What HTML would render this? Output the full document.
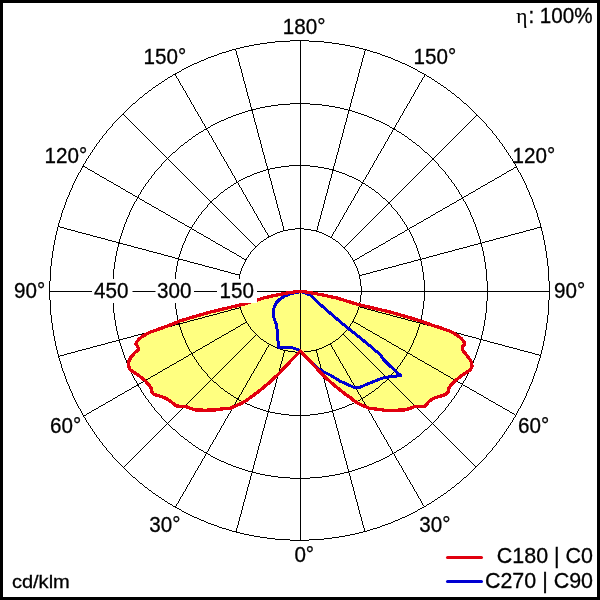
<!DOCTYPE html>
<html><head><meta charset="utf-8"><title>Polar</title>
<style>
html,body{margin:0;padding:0;background:#fff;}
body{width:600px;height:600px;overflow:hidden;position:relative;}
svg{position:absolute;left:0;top:0;display:block}
text{font-family:"Liberation Sans",sans-serif;font-size:21.33px;fill:#000;stroke:#000;stroke-width:0.3px;}
.frame{position:absolute;left:0;top:0;width:594px;height:594px;border:3px solid #000;pointer-events:none}
</style></head><body>
<svg width="600" height="600" viewBox="0 0 600 600">
<rect width="600" height="600" fill="#fff"/>
<path d="M300.5,291.4 L295,291.8 L290,292.6 L285,293.4 L280,294.4 L275,295.3 L270,296.6 L265,297.6 L258,299.7 L245,303.8 L235,306.2 L225,308.6 L220,309.8 L210,312.1 L200,315 L190,317.9 L180,320.9 L170,325 L160,328.7 L150,332.2 L143,336 L139,339.2 L136.5,342.3 L135.8,344.2 L137.8,346.5 L138.6,349.7 L135,352.5 L131,357 L129,361 L128.5,366 L130,369.5 L135,373 L140,376.5 L145,380.5 L149,385 L151.5,388.5 L151.5,391.5 L154,394.5 L159,395.8 L164,397.5 L168,399.5 L172,402.5 L176,405.8 L180,406.3 L186,406.7 L191,408.5 L196,410 L205,410.2 L215,410 L220,409.2 L225,408.7 L231,408 L236.5,405.5 L240,404 L245,401.3 L250,397.8 L255,394.2 L260,390.3 L265,386.2 L270,382 L275,377.3 L280,372.5 L285,367 L290,361.7 L295,356.5 L300.5,351 L305.5,356.5 L310.5,361.7 L315.5,367 L320.5,372.5 L325.5,377.3 L330.5,382 L335.5,386.2 L340.5,390.3 L345.5,394.2 L350.5,397.8 L355.5,401.8 L360.5,404.5 L364,406 L369.5,408.3 L375.5,409 L380.5,409.6 L385.5,410.4 L395.5,410.2 L404.5,410 L409.5,408.5 L414.5,406.7 L420.5,406.3 L424.8,406.2 L430,400.5 L435,397.7 L441.5,395.8 L446,394.5 L448.3,391.5 L448.5,388.5 L451,385 L455.5,380.5 L460.5,376.5 L465.5,373 L470.5,369.5 L472,366 L471,361.3 L468.2,357 L464.8,352.8 L462.4,349.9 L462.5,346.8 L464.8,344.4 L464,342 L461.5,338.7 L457.5,335.5 L450.5,331.4 L440.5,327.9 L430.5,324.6 L420.5,320.9 L410.5,317.9 L400.5,315 L390.5,312.1 L380.5,309.8 L375.5,308.6 L365.5,306.2 L355.5,303.8 L342.5,299.7 L335.5,297.6 L330.5,296.7 L325.5,295.5 L320.5,294.6 L315.5,293.6 L310.5,292.8 L305.5,291.9Z" fill="#ffff80" stroke="none" shape-rendering="crispEdges"/>
<g fill="#000" stroke="none" shape-rendering="crispEdges">
<path d="M237,286h1v9h-1zM238,279h1v7h-1zM238,295h1v7h-1zM239,274h1v5h-1zM239,302h1v5h-1zM240,271h1v3h-1zM240,307h1v3h-1zM241,268h1v3h-1zM241,310h1v3h-1zM242,266h1v2h-1zM242,313h1v2h-1zM243,264h1v2h-1zM243,315h1v2h-1zM244,262h1v2h-1zM244,317h1v2h-1zM245,260h1v2h-1zM245,319h1v2h-1zM246,258h1v2h-1zM246,321h1v2h-1zM247,257h1v1h-1zM247,323h1v1h-1zM248,255h1v2h-1zM248,324h1v2h-1zM249,254h1v1h-1zM249,326h1v1h-1zM250,252h1v2h-1zM250,327h1v2h-1zM251,251h1v1h-1zM251,329h1v1h-1zM252,250h1v1h-1zM252,330h1v1h-1zM253,249h1v1h-1zM253,331h1v1h-1zM254,248h1v1h-1zM254,332h1v1h-1zM255,247h1v1h-1zM255,333h1v1h-1zM256,246h1v1h-1zM256,334h1v1h-1zM257,245h1v1h-1zM257,335h1v1h-1zM258,244h1v1h-1zM258,336h1v1h-1zM259,243h1v1h-1zM259,337h1v1h-1zM260,242h1v1h-1zM260,338h1v1h-1zM261,241h2v1h-2zM261,339h2v1h-2zM263,240h1v1h-1zM263,340h1v1h-1zM264,239h2v1h-2zM264,341h2v1h-2zM266,238h1v1h-1zM266,342h1v1h-1zM267,237h2v1h-2zM267,343h2v1h-2zM269,236h2v1h-2zM269,344h2v1h-2zM271,235h2v1h-2zM271,345h2v1h-2zM273,234h2v1h-2zM273,346h2v1h-2zM275,233h2v1h-2zM275,347h2v1h-2zM277,232h3v1h-3zM277,348h3v1h-3zM280,231h3v1h-3zM280,349h3v1h-3zM283,230h5v1h-5zM283,350h5v1h-5zM288,229h7v1h-7zM288,351h7v1h-7zM295,228h9v1h-9zM295,352h9v1h-9zM304,229h7v1h-7zM304,351h7v1h-7zM311,230h5v1h-5zM311,350h5v1h-5zM316,231h3v1h-3zM316,349h3v1h-3zM319,232h3v1h-3zM319,348h3v1h-3zM322,233h2v1h-2zM322,347h2v1h-2zM324,234h2v1h-2zM324,346h2v1h-2zM326,235h2v1h-2zM326,345h2v1h-2zM328,236h2v1h-2zM328,344h2v1h-2zM330,237h2v1h-2zM330,343h2v1h-2zM332,238h1v1h-1zM332,342h1v1h-1zM333,239h2v1h-2zM333,341h2v1h-2zM335,240h1v1h-1zM335,340h1v1h-1zM336,241h2v1h-2zM336,339h2v1h-2zM338,242h1v1h-1zM338,338h1v1h-1zM339,243h1v1h-1zM339,337h1v1h-1zM340,244h1v1h-1zM340,336h1v1h-1zM341,245h1v1h-1zM341,335h1v1h-1zM342,246h1v1h-1zM342,334h1v1h-1zM343,247h1v1h-1zM343,333h1v1h-1zM344,248h1v1h-1zM344,332h1v1h-1zM345,249h1v1h-1zM345,331h1v1h-1zM346,250h1v1h-1zM346,330h1v1h-1zM347,251h1v1h-1zM347,329h1v1h-1zM348,252h1v2h-1zM348,327h1v2h-1zM349,254h1v1h-1zM349,326h1v1h-1zM350,255h1v2h-1zM350,324h1v2h-1zM351,257h1v1h-1zM351,323h1v1h-1zM352,258h1v2h-1zM352,321h1v2h-1zM353,260h1v2h-1zM353,319h1v2h-1zM354,262h1v2h-1zM354,317h1v2h-1zM355,264h1v2h-1zM355,315h1v2h-1zM356,266h1v2h-1zM356,313h1v2h-1zM357,268h1v3h-1zM357,310h1v3h-1zM358,271h1v3h-1zM358,307h1v3h-1zM359,274h1v5h-1zM359,302h1v5h-1zM360,279h1v7h-1zM360,295h1v7h-1zM361,286h1v9h-1z"/>
<path d="M174,280h1v21h-1zM175,272h1v8h-1zM175,301h1v8h-1zM176,266h1v6h-1zM176,309h1v6h-1zM177,261h1v5h-1zM177,315h1v5h-1zM178,257h1v4h-1zM178,320h1v4h-1zM179,254h1v3h-1zM179,324h1v3h-1zM180,251h1v3h-1zM180,327h1v3h-1zM181,248h1v3h-1zM181,330h1v3h-1zM182,245h1v3h-1zM182,333h1v3h-1zM183,243h1v2h-1zM183,336h1v2h-1zM184,241h1v2h-1zM184,338h1v2h-1zM185,238h1v3h-1zM185,340h1v3h-1zM186,236h1v2h-1zM186,343h1v2h-1zM187,234h1v2h-1zM187,345h1v2h-1zM188,232h1v2h-1zM188,347h1v2h-1zM189,230h1v2h-1zM189,349h1v2h-1zM190,229h1v1h-1zM190,351h1v1h-1zM191,227h1v2h-1zM191,352h1v2h-1zM192,225h1v2h-1zM192,354h1v2h-1zM193,224h1v1h-1zM193,356h1v1h-1zM194,222h1v2h-1zM194,357h1v2h-1zM195,221h1v1h-1zM195,359h1v1h-1zM196,219h1v2h-1zM196,360h1v2h-1zM197,218h1v1h-1zM197,362h1v1h-1zM198,216h1v2h-1zM198,363h1v2h-1zM199,215h1v1h-1zM199,365h1v1h-1zM200,214h1v1h-1zM200,366h1v1h-1zM201,212h1v2h-1zM201,367h1v2h-1zM202,211h1v1h-1zM202,369h1v1h-1zM203,210h1v1h-1zM203,370h1v1h-1zM204,209h1v1h-1zM204,371h1v1h-1zM205,208h1v1h-1zM205,372h1v1h-1zM206,207h1v1h-1zM206,373h1v1h-1zM207,205h1v2h-1zM207,374h1v2h-1zM208,204h1v1h-1zM208,376h1v1h-1zM209,203h1v1h-1zM209,377h1v1h-1zM210,202h1v1h-1zM210,378h1v1h-1zM211,201h1v1h-1zM211,379h1v1h-1zM212,200h1v1h-1zM212,380h1v1h-1zM213,199h1v1h-1zM213,381h1v1h-1zM214,198h2v1h-2zM214,382h2v1h-2zM216,197h1v1h-1zM216,383h1v1h-1zM217,196h1v1h-1zM217,384h1v1h-1zM218,195h1v1h-1zM218,385h1v1h-1zM219,194h1v1h-1zM219,386h1v1h-1zM220,193h1v1h-1zM220,387h1v1h-1zM221,192h2v1h-2zM221,388h2v1h-2zM223,191h1v1h-1zM223,389h1v1h-1zM224,190h1v1h-1zM224,390h1v1h-1zM225,189h2v1h-2zM225,391h2v1h-2zM227,188h1v1h-1zM227,392h1v1h-1zM228,187h2v1h-2zM228,393h2v1h-2zM230,186h1v1h-1zM230,394h1v1h-1zM231,185h2v1h-2zM231,395h2v1h-2zM233,184h1v1h-1zM233,396h1v1h-1zM234,183h2v1h-2zM234,397h2v1h-2zM236,182h2v1h-2zM236,398h2v1h-2zM238,181h1v1h-1zM238,399h1v1h-1zM239,180h2v1h-2zM239,400h2v1h-2zM241,179h2v1h-2zM241,401h2v1h-2zM243,178h2v1h-2zM243,402h2v1h-2zM245,177h2v1h-2zM245,403h2v1h-2zM247,176h3v1h-3zM247,404h3v1h-3zM250,175h2v1h-2zM250,405h2v1h-2zM252,174h2v1h-2zM252,406h2v1h-2zM254,173h3v1h-3zM254,407h3v1h-3zM257,172h3v1h-3zM257,408h3v1h-3zM260,171h3v1h-3zM260,409h3v1h-3zM263,170h3v1h-3zM263,410h3v1h-3zM266,169h4v1h-4zM266,411h4v1h-4zM270,168h5v1h-5zM270,412h5v1h-5zM275,167h6v1h-6zM275,413h6v1h-6zM281,166h8v1h-8zM281,414h8v1h-8zM289,165h21v1h-21zM289,415h21v1h-21zM310,166h8v1h-8zM310,414h8v1h-8zM318,167h6v1h-6zM318,413h6v1h-6zM324,168h5v1h-5zM324,412h5v1h-5zM329,169h4v1h-4zM329,411h4v1h-4zM333,170h3v1h-3zM333,410h3v1h-3zM336,171h3v1h-3zM336,409h3v1h-3zM339,172h3v1h-3zM339,408h3v1h-3zM342,173h3v1h-3zM342,407h3v1h-3zM345,174h2v1h-2zM345,406h2v1h-2zM347,175h2v1h-2zM347,405h2v1h-2zM349,176h3v1h-3zM349,404h3v1h-3zM352,177h2v1h-2zM352,403h2v1h-2zM354,178h2v1h-2zM354,402h2v1h-2zM356,179h2v1h-2zM356,401h2v1h-2zM358,180h2v1h-2zM358,400h2v1h-2zM360,181h1v1h-1zM360,399h1v1h-1zM361,182h2v1h-2zM361,398h2v1h-2zM363,183h2v1h-2zM363,397h2v1h-2zM365,184h1v1h-1zM365,396h1v1h-1zM366,185h2v1h-2zM366,395h2v1h-2zM368,186h1v1h-1zM368,394h1v1h-1zM369,187h2v1h-2zM369,393h2v1h-2zM371,188h1v1h-1zM371,392h1v1h-1zM372,189h2v1h-2zM372,391h2v1h-2zM374,190h1v1h-1zM374,390h1v1h-1zM375,191h1v1h-1zM375,389h1v1h-1zM376,192h2v1h-2zM376,388h2v1h-2zM378,193h1v1h-1zM378,387h1v1h-1zM379,194h1v1h-1zM379,386h1v1h-1zM380,195h1v1h-1zM380,385h1v1h-1zM381,196h1v1h-1zM381,384h1v1h-1zM382,197h1v1h-1zM382,383h1v1h-1zM383,198h2v1h-2zM383,382h2v1h-2zM385,199h1v1h-1zM385,381h1v1h-1zM386,200h1v1h-1zM386,380h1v1h-1zM387,201h1v1h-1zM387,379h1v1h-1zM388,202h1v1h-1zM388,378h1v1h-1zM389,203h1v1h-1zM389,377h1v1h-1zM390,204h1v1h-1zM390,376h1v1h-1zM391,205h1v2h-1zM391,374h1v2h-1zM392,207h1v1h-1zM392,373h1v1h-1zM393,208h1v1h-1zM393,372h1v1h-1zM394,209h1v1h-1zM394,371h1v1h-1zM395,210h1v1h-1zM395,370h1v1h-1zM396,211h1v1h-1zM396,369h1v1h-1zM397,212h1v2h-1zM397,367h1v2h-1zM398,214h1v1h-1zM398,366h1v1h-1zM399,215h1v1h-1zM399,365h1v1h-1zM400,216h1v2h-1zM400,363h1v2h-1zM401,218h1v1h-1zM401,362h1v1h-1zM402,219h1v2h-1zM402,360h1v2h-1zM403,221h1v1h-1zM403,359h1v1h-1zM404,222h1v2h-1zM404,357h1v2h-1zM405,224h1v1h-1zM405,356h1v1h-1zM406,225h1v2h-1zM406,354h1v2h-1zM407,227h1v2h-1zM407,352h1v2h-1zM408,229h1v1h-1zM408,351h1v1h-1zM409,230h1v2h-1zM409,349h1v2h-1zM410,232h1v2h-1zM410,347h1v2h-1zM411,234h1v2h-1zM411,345h1v2h-1zM412,236h1v2h-1zM412,343h1v2h-1zM413,238h1v3h-1zM413,340h1v3h-1zM414,241h1v2h-1zM414,338h1v2h-1zM415,243h1v2h-1zM415,336h1v2h-1zM416,245h1v3h-1zM416,333h1v3h-1zM417,248h1v3h-1zM417,330h1v3h-1zM418,251h1v3h-1zM418,327h1v3h-1zM419,254h1v3h-1zM419,324h1v3h-1zM420,257h1v4h-1zM420,320h1v4h-1zM421,261h1v5h-1zM421,315h1v5h-1zM422,266h1v6h-1zM422,309h1v6h-1zM423,272h1v8h-1zM423,301h1v8h-1zM424,280h1v21h-1z"/>
<path d="M112,281h1v20h-1zM113,269h1v12h-1zM113,301h1v12h-1zM114,262h1v7h-1zM114,313h1v7h-1zM115,256h1v6h-1zM115,320h1v6h-1zM116,251h1v5h-1zM116,326h1v5h-1zM117,247h1v4h-1zM117,331h1v4h-1zM118,243h1v4h-1zM118,335h1v4h-1zM119,239h1v4h-1zM119,339h1v4h-1zM120,236h1v3h-1zM120,343h1v3h-1zM121,233h1v3h-1zM121,346h1v3h-1zM122,230h1v3h-1zM122,349h1v3h-1zM123,227h1v3h-1zM123,352h1v3h-1zM124,224h1v3h-1zM124,355h1v3h-1zM125,222h1v2h-1zM125,358h1v2h-1zM126,219h1v3h-1zM126,360h1v3h-1zM127,217h1v2h-1zM127,363h1v2h-1zM128,215h1v2h-1zM128,365h1v2h-1zM129,212h1v3h-1zM129,367h1v3h-1zM130,210h1v2h-1zM130,370h1v2h-1zM131,208h1v2h-1zM131,372h1v2h-1zM132,206h1v2h-1zM132,374h1v2h-1zM133,204h1v2h-1zM133,376h1v2h-1zM134,202h1v2h-1zM134,378h1v2h-1zM135,201h1v1h-1zM135,380h1v1h-1zM136,199h1v2h-1zM136,381h1v2h-1zM137,197h1v2h-1zM137,383h1v2h-1zM138,195h1v2h-1zM138,385h1v2h-1zM139,194h1v1h-1zM139,387h1v1h-1zM140,192h1v2h-1zM140,388h1v2h-1zM141,190h1v2h-1zM141,390h1v2h-1zM142,189h1v1h-1zM142,392h1v1h-1zM143,187h1v2h-1zM143,393h1v2h-1zM144,186h1v1h-1zM144,395h1v1h-1zM145,184h1v2h-1zM145,396h1v2h-1zM146,183h1v1h-1zM146,398h1v1h-1zM147,182h1v1h-1zM147,399h1v1h-1zM148,180h1v2h-1zM148,400h1v2h-1zM149,179h1v1h-1zM149,402h1v1h-1zM150,178h1v1h-1zM150,403h1v1h-1zM151,176h1v2h-1zM151,404h1v2h-1zM152,175h1v1h-1zM152,406h1v1h-1zM153,174h1v1h-1zM153,407h1v1h-1zM154,172h1v2h-1zM154,408h1v2h-1zM155,171h1v1h-1zM155,410h1v1h-1zM156,170h1v1h-1zM156,411h1v1h-1zM157,169h1v1h-1zM157,412h1v1h-1zM158,168h1v1h-1zM158,413h1v1h-1zM159,167h1v1h-1zM159,414h1v1h-1zM160,166h1v1h-1zM160,415h1v1h-1zM161,164h1v2h-1zM161,416h1v2h-1zM162,163h1v1h-1zM162,418h1v1h-1zM163,162h1v1h-1zM163,419h1v1h-1zM164,161h1v1h-1zM164,420h1v1h-1zM165,160h1v1h-1zM165,421h1v1h-1zM166,159h1v1h-1zM166,422h1v1h-1zM167,158h1v1h-1zM167,423h1v1h-1zM168,157h1v1h-1zM168,424h1v1h-1zM169,156h1v1h-1zM169,425h1v1h-1zM170,155h1v1h-1zM170,426h1v1h-1zM171,154h1v1h-1zM171,427h1v1h-1zM172,153h1v1h-1zM172,428h1v1h-1zM173,152h2v1h-2zM173,429h2v1h-2zM175,151h1v1h-1zM175,430h1v1h-1zM176,150h1v1h-1zM176,431h1v1h-1zM177,149h1v1h-1zM177,432h1v1h-1zM178,148h1v1h-1zM178,433h1v1h-1zM179,147h1v1h-1zM179,434h1v1h-1zM180,146h1v1h-1zM180,435h1v1h-1zM181,145h2v1h-2zM181,436h2v1h-2zM183,144h1v1h-1zM183,437h1v1h-1zM184,143h1v1h-1zM184,438h1v1h-1zM185,142h2v1h-2zM185,439h2v1h-2zM187,141h1v1h-1zM187,440h1v1h-1zM188,140h1v1h-1zM188,441h1v1h-1zM189,139h2v1h-2zM189,442h2v1h-2zM191,138h1v1h-1zM191,443h1v1h-1zM192,137h1v1h-1zM192,444h1v1h-1zM193,136h2v1h-2zM193,445h2v1h-2zM195,135h1v1h-1zM195,446h1v1h-1zM196,134h2v1h-2zM196,447h2v1h-2zM198,133h1v1h-1zM198,448h1v1h-1zM199,132h2v1h-2zM199,449h2v1h-2zM201,131h2v1h-2zM201,450h2v1h-2zM203,130h1v1h-1zM203,451h1v1h-1zM204,129h2v1h-2zM204,452h2v1h-2zM206,128h2v1h-2zM206,453h2v1h-2zM208,127h2v1h-2zM208,454h2v1h-2zM210,126h1v1h-1zM210,455h1v1h-1zM211,125h2v1h-2zM211,456h2v1h-2zM213,124h2v1h-2zM213,457h2v1h-2zM215,123h2v1h-2zM215,458h2v1h-2zM217,122h2v1h-2zM217,459h2v1h-2zM219,121h2v1h-2zM219,460h2v1h-2zM221,120h3v1h-3zM221,461h3v1h-3zM224,119h2v1h-2zM224,462h2v1h-2zM226,118h2v1h-2zM226,463h2v1h-2zM228,117h3v1h-3zM228,464h3v1h-3zM231,116h2v1h-2zM231,465h2v1h-2zM233,115h3v1h-3zM233,466h3v1h-3zM236,114h3v1h-3zM236,467h3v1h-3zM239,113h3v1h-3zM239,468h3v1h-3zM242,112h3v1h-3zM242,469h3v1h-3zM245,111h3v1h-3zM245,470h3v1h-3zM248,110h4v1h-4zM248,471h4v1h-4zM252,109h4v1h-4zM252,472h4v1h-4zM256,108h4v1h-4zM256,473h4v1h-4zM260,107h5v1h-5zM260,474h5v1h-5zM265,106h6v1h-6zM265,475h6v1h-6zM271,105h7v1h-7zM271,476h7v1h-7zM278,104h12v1h-12zM278,477h12v1h-12zM290,103h20v1h-20zM290,478h20v1h-20zM310,104h12v1h-12zM310,477h12v1h-12zM322,105h7v1h-7zM322,476h7v1h-7zM329,106h6v1h-6zM329,475h6v1h-6zM335,107h5v1h-5zM335,474h5v1h-5zM340,108h4v1h-4zM340,473h4v1h-4zM344,109h4v1h-4zM344,472h4v1h-4zM348,110h4v1h-4zM348,471h4v1h-4zM352,111h3v1h-3zM352,470h3v1h-3zM355,112h3v1h-3zM355,469h3v1h-3zM358,113h3v1h-3zM358,468h3v1h-3zM361,114h3v1h-3zM361,467h3v1h-3zM364,115h3v1h-3zM364,466h3v1h-3zM367,116h2v1h-2zM367,465h2v1h-2zM369,117h3v1h-3zM369,464h3v1h-3zM372,118h2v1h-2zM372,463h2v1h-2zM374,119h2v1h-2zM374,462h2v1h-2zM376,120h3v1h-3zM376,461h3v1h-3zM379,121h2v1h-2zM379,460h2v1h-2zM381,122h2v1h-2zM381,459h2v1h-2zM383,123h2v1h-2zM383,458h2v1h-2zM385,124h2v1h-2zM385,457h2v1h-2zM387,125h2v1h-2zM387,456h2v1h-2zM389,126h1v1h-1zM389,455h1v1h-1zM390,127h2v1h-2zM390,454h2v1h-2zM392,128h2v1h-2zM392,453h2v1h-2zM394,129h2v1h-2zM394,452h2v1h-2zM396,130h1v1h-1zM396,451h1v1h-1zM397,131h2v1h-2zM397,450h2v1h-2zM399,132h2v1h-2zM399,449h2v1h-2zM401,133h1v1h-1zM401,448h1v1h-1zM402,134h2v1h-2zM402,447h2v1h-2zM404,135h1v1h-1zM404,446h1v1h-1zM405,136h2v1h-2zM405,445h2v1h-2zM407,137h1v1h-1zM407,444h1v1h-1zM408,138h1v1h-1zM408,443h1v1h-1zM409,139h2v1h-2zM409,442h2v1h-2zM411,140h1v1h-1zM411,441h1v1h-1zM412,141h1v1h-1zM412,440h1v1h-1zM413,142h2v1h-2zM413,439h2v1h-2zM415,143h1v1h-1zM415,438h1v1h-1zM416,144h1v1h-1zM416,437h1v1h-1zM417,145h2v1h-2zM417,436h2v1h-2zM419,146h1v1h-1zM419,435h1v1h-1zM420,147h1v1h-1zM420,434h1v1h-1zM421,148h1v1h-1zM421,433h1v1h-1zM422,149h1v1h-1zM422,432h1v1h-1zM423,150h1v1h-1zM423,431h1v1h-1zM424,151h1v1h-1zM424,430h1v1h-1zM425,152h2v1h-2zM425,429h2v1h-2zM427,153h1v1h-1zM427,428h1v1h-1zM428,154h1v1h-1zM428,427h1v1h-1zM429,155h1v1h-1zM429,426h1v1h-1zM430,156h1v1h-1zM430,425h1v1h-1zM431,157h1v1h-1zM431,424h1v1h-1zM432,158h1v1h-1zM432,423h1v1h-1zM433,159h1v1h-1zM433,422h1v1h-1zM434,160h1v1h-1zM434,421h1v1h-1zM435,161h1v1h-1zM435,420h1v1h-1zM436,162h1v1h-1zM436,419h1v1h-1zM437,163h1v1h-1zM437,418h1v1h-1zM438,164h1v2h-1zM438,416h1v2h-1zM439,166h1v1h-1zM439,415h1v1h-1zM440,167h1v1h-1zM440,414h1v1h-1zM441,168h1v1h-1zM441,413h1v1h-1zM442,169h1v1h-1zM442,412h1v1h-1zM443,170h1v1h-1zM443,411h1v1h-1zM444,171h1v1h-1zM444,410h1v1h-1zM445,172h1v2h-1zM445,408h1v2h-1zM446,174h1v1h-1zM446,407h1v1h-1zM447,175h1v1h-1zM447,406h1v1h-1zM448,176h1v2h-1zM448,404h1v2h-1zM449,178h1v1h-1zM449,403h1v1h-1zM450,179h1v1h-1zM450,402h1v1h-1zM451,180h1v2h-1zM451,400h1v2h-1zM452,182h1v1h-1zM452,399h1v1h-1zM453,183h1v1h-1zM453,398h1v1h-1zM454,184h1v2h-1zM454,396h1v2h-1zM455,186h1v1h-1zM455,395h1v1h-1zM456,187h1v2h-1zM456,393h1v2h-1zM457,189h1v1h-1zM457,392h1v1h-1zM458,190h1v2h-1zM458,390h1v2h-1zM459,192h1v2h-1zM459,388h1v2h-1zM460,194h1v1h-1zM460,387h1v1h-1zM461,195h1v2h-1zM461,385h1v2h-1zM462,197h1v2h-1zM462,383h1v2h-1zM463,199h1v2h-1zM463,381h1v2h-1zM464,201h1v1h-1zM464,380h1v1h-1zM465,202h1v2h-1zM465,378h1v2h-1zM466,204h1v2h-1zM466,376h1v2h-1zM467,206h1v2h-1zM467,374h1v2h-1zM468,208h1v2h-1zM468,372h1v2h-1zM469,210h1v2h-1zM469,370h1v2h-1zM470,212h1v3h-1zM470,367h1v3h-1zM471,215h1v2h-1zM471,365h1v2h-1zM472,217h1v2h-1zM472,363h1v2h-1zM473,219h1v3h-1zM473,360h1v3h-1zM474,222h1v2h-1zM474,358h1v2h-1zM475,224h1v3h-1zM475,355h1v3h-1zM476,227h1v3h-1zM476,352h1v3h-1zM477,230h1v3h-1zM477,349h1v3h-1zM478,233h1v3h-1zM478,346h1v3h-1zM479,236h1v3h-1zM479,343h1v3h-1zM480,239h1v4h-1zM480,339h1v4h-1zM481,243h1v4h-1zM481,335h1v4h-1zM482,247h1v4h-1zM482,331h1v4h-1zM483,251h1v5h-1zM483,326h1v5h-1zM484,256h1v6h-1zM484,320h1v6h-1zM485,262h1v7h-1zM485,313h1v7h-1zM486,269h1v12h-1zM486,301h1v12h-1zM487,281h1v20h-1z"/>
<path d="M49,281h1v19h-1zM50,266h1v15h-1zM50,300h1v15h-1zM51,258h1v8h-1zM51,315h1v8h-1zM52,251h1v7h-1zM52,323h1v7h-1zM53,245h1v6h-1zM53,330h1v6h-1zM54,240h1v5h-1zM54,336h1v5h-1zM55,235h1v5h-1zM55,341h1v5h-1zM56,231h1v4h-1zM56,346h1v4h-1zM57,227h1v4h-1zM57,350h1v4h-1zM58,223h1v4h-1zM58,354h1v4h-1zM59,220h1v3h-1zM59,358h1v3h-1zM60,217h1v3h-1zM60,361h1v3h-1zM61,213h1v4h-1zM61,364h1v4h-1zM62,210h1v3h-1zM62,368h1v3h-1zM63,208h1v2h-1zM63,371h1v2h-1zM64,205h1v3h-1zM64,373h1v3h-1zM65,202h1v3h-1zM65,376h1v3h-1zM66,199h1v3h-1zM66,379h1v3h-1zM67,197h1v2h-1zM67,382h1v2h-1zM68,195h1v2h-1zM68,384h1v2h-1zM69,192h1v3h-1zM69,386h1v3h-1zM70,190h1v2h-1zM70,389h1v2h-1zM71,188h1v2h-1zM71,391h1v2h-1zM72,185h1v3h-1zM72,393h1v3h-1zM73,183h1v2h-1zM73,396h1v2h-1zM74,181h1v2h-1zM74,398h1v2h-1zM75,179h1v2h-1zM75,400h1v2h-1zM76,177h1v2h-1zM76,402h1v2h-1zM77,175h1v2h-1zM77,404h1v2h-1zM78,173h1v2h-1zM78,406h1v2h-1zM79,172h1v1h-1zM79,408h1v1h-1zM80,170h1v2h-1zM80,409h1v2h-1zM81,168h1v2h-1zM81,411h1v2h-1zM82,166h1v2h-1zM82,413h1v2h-1zM83,164h1v2h-1zM83,415h1v2h-1zM84,163h1v1h-1zM84,417h1v1h-1zM85,161h1v2h-1zM85,418h1v2h-1zM86,159h1v2h-1zM86,420h1v2h-1zM87,158h1v1h-1zM87,422h1v1h-1zM88,156h1v2h-1zM88,423h1v2h-1zM89,155h1v1h-1zM89,425h1v1h-1zM90,153h1v2h-1zM90,426h1v2h-1zM91,152h1v1h-1zM91,428h1v1h-1zM92,150h1v2h-1zM92,429h1v2h-1zM93,149h1v1h-1zM93,431h1v1h-1zM94,147h1v2h-1zM94,432h1v2h-1zM95,146h1v1h-1zM95,434h1v1h-1zM96,144h1v2h-1zM96,435h1v2h-1zM97,143h1v1h-1zM97,437h1v1h-1zM98,142h1v1h-1zM98,438h1v1h-1zM99,140h1v2h-1zM99,439h1v2h-1zM100,139h1v1h-1zM100,441h1v1h-1zM101,138h1v1h-1zM101,442h1v1h-1zM102,136h1v2h-1zM102,443h1v2h-1zM103,135h1v1h-1zM103,445h1v1h-1zM104,134h1v1h-1zM104,446h1v1h-1zM105,133h1v1h-1zM105,447h1v1h-1zM106,131h1v2h-1zM106,448h1v2h-1zM107,130h1v1h-1zM107,450h1v1h-1zM108,129h1v1h-1zM108,451h1v1h-1zM109,128h1v1h-1zM109,452h1v1h-1zM110,127h1v1h-1zM110,453h1v1h-1zM111,126h1v1h-1zM111,454h1v1h-1zM112,124h1v2h-1zM112,455h1v2h-1zM113,123h1v1h-1zM113,457h1v1h-1zM114,122h1v1h-1zM114,458h1v1h-1zM115,121h1v1h-1zM115,459h1v1h-1zM116,120h1v1h-1zM116,460h1v1h-1zM117,119h1v1h-1zM117,461h1v1h-1zM118,118h1v1h-1zM118,462h1v1h-1zM119,117h1v1h-1zM119,463h1v1h-1zM120,116h1v1h-1zM120,464h1v1h-1zM121,115h1v1h-1zM121,465h1v1h-1zM122,114h1v1h-1zM122,466h1v1h-1zM123,113h1v1h-1zM123,467h1v1h-1zM124,112h1v1h-1zM124,468h1v1h-1zM125,111h1v1h-1zM125,469h1v1h-1zM126,110h1v1h-1zM126,470h1v1h-1zM127,109h1v1h-1zM127,471h1v1h-1zM128,108h1v1h-1zM128,472h1v1h-1zM129,107h1v1h-1zM129,473h1v1h-1zM130,106h1v1h-1zM130,474h1v1h-1zM131,105h1v1h-1zM131,475h1v1h-1zM132,104h1v1h-1zM132,476h1v1h-1zM133,103h2v1h-2zM133,477h2v1h-2zM135,102h1v1h-1zM135,478h1v1h-1zM136,101h1v1h-1zM136,479h1v1h-1zM137,100h1v1h-1zM137,480h1v1h-1zM138,99h1v1h-1zM138,481h1v1h-1zM139,98h1v1h-1zM139,482h1v1h-1zM140,97h2v1h-2zM140,483h2v1h-2zM142,96h1v1h-1zM142,484h1v1h-1zM143,95h1v1h-1zM143,485h1v1h-1zM144,94h1v1h-1zM144,486h1v1h-1zM145,93h2v1h-2zM145,487h2v1h-2zM147,92h1v1h-1zM147,488h1v1h-1zM148,91h1v1h-1zM148,489h1v1h-1zM149,90h2v1h-2zM149,490h2v1h-2zM151,89h1v1h-1zM151,491h1v1h-1zM152,88h1v1h-1zM152,492h1v1h-1zM153,87h2v1h-2zM153,493h2v1h-2zM155,86h1v1h-1zM155,494h1v1h-1zM156,85h2v1h-2zM156,495h2v1h-2zM158,84h1v1h-1zM158,496h1v1h-1zM159,83h2v1h-2zM159,497h2v1h-2zM161,82h1v1h-1zM161,498h1v1h-1zM162,81h2v1h-2zM162,499h2v1h-2zM164,80h1v1h-1zM164,500h1v1h-1zM165,79h2v1h-2zM165,501h2v1h-2zM167,78h1v1h-1zM167,502h1v1h-1zM168,77h2v1h-2zM168,503h2v1h-2zM170,76h2v1h-2zM170,504h2v1h-2zM172,75h1v1h-1zM172,505h1v1h-1zM173,74h2v1h-2zM173,506h2v1h-2zM175,73h2v1h-2zM175,507h2v1h-2zM177,72h2v1h-2zM177,508h2v1h-2zM179,71h2v1h-2zM179,509h2v1h-2zM181,70h1v1h-1zM181,510h1v1h-1zM182,69h2v1h-2zM182,511h2v1h-2zM184,68h2v1h-2zM184,512h2v1h-2zM186,67h2v1h-2zM186,513h2v1h-2zM188,66h2v1h-2zM188,514h2v1h-2zM190,65h2v1h-2zM190,515h2v1h-2zM192,64h2v1h-2zM192,516h2v1h-2zM194,63h3v1h-3zM194,517h3v1h-3zM197,62h2v1h-2zM197,518h2v1h-2zM199,61h2v1h-2zM199,519h2v1h-2zM201,60h3v1h-3zM201,520h3v1h-3zM204,59h2v1h-2zM204,521h2v1h-2zM206,58h2v1h-2zM206,522h2v1h-2zM208,57h3v1h-3zM208,523h3v1h-3zM211,56h3v1h-3zM211,524h3v1h-3zM214,55h3v1h-3zM214,525h3v1h-3zM217,54h2v1h-2zM217,526h2v1h-2zM219,53h3v1h-3zM219,527h3v1h-3zM222,52h4v1h-4zM222,528h4v1h-4zM226,51h3v1h-3zM226,529h3v1h-3zM229,50h3v1h-3zM229,530h3v1h-3zM232,49h4v1h-4zM232,531h4v1h-4zM236,48h4v1h-4zM236,532h4v1h-4zM240,47h4v1h-4zM240,533h4v1h-4zM244,46h5v1h-5zM244,534h5v1h-5zM249,45h5v1h-5zM249,535h5v1h-5zM254,44h6v1h-6zM254,536h6v1h-6zM260,43h7v1h-7zM260,537h7v1h-7zM267,42h8v1h-8zM267,538h8v1h-8zM275,41h15v1h-15zM275,539h15v1h-15zM290,40h19v1h-19zM290,540h19v1h-19zM309,41h15v1h-15zM309,539h15v1h-15zM324,42h8v1h-8zM324,538h8v1h-8zM332,43h7v1h-7zM332,537h7v1h-7zM339,44h6v1h-6zM339,536h6v1h-6zM345,45h5v1h-5zM345,535h5v1h-5zM350,46h5v1h-5zM350,534h5v1h-5zM355,47h4v1h-4zM355,533h4v1h-4zM359,48h4v1h-4zM359,532h4v1h-4zM363,49h4v1h-4zM363,531h4v1h-4zM367,50h3v1h-3zM367,530h3v1h-3zM370,51h3v1h-3zM370,529h3v1h-3zM373,52h4v1h-4zM373,528h4v1h-4zM377,53h3v1h-3zM377,527h3v1h-3zM380,54h2v1h-2zM380,526h2v1h-2zM382,55h3v1h-3zM382,525h3v1h-3zM385,56h3v1h-3zM385,524h3v1h-3zM388,57h3v1h-3zM388,523h3v1h-3zM391,58h2v1h-2zM391,522h2v1h-2zM393,59h2v1h-2zM393,521h2v1h-2zM395,60h3v1h-3zM395,520h3v1h-3zM398,61h2v1h-2zM398,519h2v1h-2zM400,62h2v1h-2zM400,518h2v1h-2zM402,63h3v1h-3zM402,517h3v1h-3zM405,64h2v1h-2zM405,516h2v1h-2zM407,65h2v1h-2zM407,515h2v1h-2zM409,66h2v1h-2zM409,514h2v1h-2zM411,67h2v1h-2zM411,513h2v1h-2zM413,68h2v1h-2zM413,512h2v1h-2zM415,69h2v1h-2zM415,511h2v1h-2zM417,70h1v1h-1zM417,510h1v1h-1zM418,71h2v1h-2zM418,509h2v1h-2zM420,72h2v1h-2zM420,508h2v1h-2zM422,73h2v1h-2zM422,507h2v1h-2zM424,74h2v1h-2zM424,506h2v1h-2zM426,75h1v1h-1zM426,505h1v1h-1zM427,76h2v1h-2zM427,504h2v1h-2zM429,77h2v1h-2zM429,503h2v1h-2zM431,78h1v1h-1zM431,502h1v1h-1zM432,79h2v1h-2zM432,501h2v1h-2zM434,80h1v1h-1zM434,500h1v1h-1zM435,81h2v1h-2zM435,499h2v1h-2zM437,82h1v1h-1zM437,498h1v1h-1zM438,83h2v1h-2zM438,497h2v1h-2zM440,84h1v1h-1zM440,496h1v1h-1zM441,85h2v1h-2zM441,495h2v1h-2zM443,86h1v1h-1zM443,494h1v1h-1zM444,87h2v1h-2zM444,493h2v1h-2zM446,88h1v1h-1zM446,492h1v1h-1zM447,89h1v1h-1zM447,491h1v1h-1zM448,90h2v1h-2zM448,490h2v1h-2zM450,91h1v1h-1zM450,489h1v1h-1zM451,92h1v1h-1zM451,488h1v1h-1zM452,93h2v1h-2zM452,487h2v1h-2zM454,94h1v1h-1zM454,486h1v1h-1zM455,95h1v1h-1zM455,485h1v1h-1zM456,96h1v1h-1zM456,484h1v1h-1zM457,97h2v1h-2zM457,483h2v1h-2zM459,98h1v1h-1zM459,482h1v1h-1zM460,99h1v1h-1zM460,481h1v1h-1zM461,100h1v1h-1zM461,480h1v1h-1zM462,101h1v1h-1zM462,479h1v1h-1zM463,102h1v1h-1zM463,478h1v1h-1zM464,103h2v1h-2zM464,477h2v1h-2zM466,104h1v1h-1zM466,476h1v1h-1zM467,105h1v1h-1zM467,475h1v1h-1zM468,106h1v1h-1zM468,474h1v1h-1zM469,107h1v1h-1zM469,473h1v1h-1zM470,108h1v1h-1zM470,472h1v1h-1zM471,109h1v1h-1zM471,471h1v1h-1zM472,110h1v1h-1zM472,470h1v1h-1zM473,111h1v1h-1zM473,469h1v1h-1zM474,112h1v1h-1zM474,468h1v1h-1zM475,113h1v1h-1zM475,467h1v1h-1zM476,114h1v1h-1zM476,466h1v1h-1zM477,115h1v1h-1zM477,465h1v1h-1zM478,116h1v1h-1zM478,464h1v1h-1zM479,117h1v1h-1zM479,463h1v1h-1zM480,118h1v1h-1zM480,462h1v1h-1zM481,119h1v1h-1zM481,461h1v1h-1zM482,120h1v1h-1zM482,460h1v1h-1zM483,121h1v1h-1zM483,459h1v1h-1zM484,122h1v1h-1zM484,458h1v1h-1zM485,123h1v1h-1zM485,457h1v1h-1zM486,124h1v2h-1zM486,455h1v2h-1zM487,126h1v1h-1zM487,454h1v1h-1zM488,127h1v1h-1zM488,453h1v1h-1zM489,128h1v1h-1zM489,452h1v1h-1zM490,129h1v1h-1zM490,451h1v1h-1zM491,130h1v1h-1zM491,450h1v1h-1zM492,131h1v2h-1zM492,448h1v2h-1zM493,133h1v1h-1zM493,447h1v1h-1zM494,134h1v1h-1zM494,446h1v1h-1zM495,135h1v1h-1zM495,445h1v1h-1zM496,136h1v2h-1zM496,443h1v2h-1zM497,138h1v1h-1zM497,442h1v1h-1zM498,139h1v1h-1zM498,441h1v1h-1zM499,140h1v2h-1zM499,439h1v2h-1zM500,142h1v1h-1zM500,438h1v1h-1zM501,143h1v1h-1zM501,437h1v1h-1zM502,144h1v2h-1zM502,435h1v2h-1zM503,146h1v1h-1zM503,434h1v1h-1zM504,147h1v2h-1zM504,432h1v2h-1zM505,149h1v1h-1zM505,431h1v1h-1zM506,150h1v2h-1zM506,429h1v2h-1zM507,152h1v1h-1zM507,428h1v1h-1zM508,153h1v2h-1zM508,426h1v2h-1zM509,155h1v1h-1zM509,425h1v1h-1zM510,156h1v2h-1zM510,423h1v2h-1zM511,158h1v1h-1zM511,422h1v1h-1zM512,159h1v2h-1zM512,420h1v2h-1zM513,161h1v2h-1zM513,418h1v2h-1zM514,163h1v1h-1zM514,417h1v1h-1zM515,164h1v2h-1zM515,415h1v2h-1zM516,166h1v2h-1zM516,413h1v2h-1zM517,168h1v2h-1zM517,411h1v2h-1zM518,170h1v2h-1zM518,409h1v2h-1zM519,172h1v1h-1zM519,408h1v1h-1zM520,173h1v2h-1zM520,406h1v2h-1zM521,175h1v2h-1zM521,404h1v2h-1zM522,177h1v2h-1zM522,402h1v2h-1zM523,179h1v2h-1zM523,400h1v2h-1zM524,181h1v2h-1zM524,398h1v2h-1zM525,183h1v2h-1zM525,396h1v2h-1zM526,185h1v3h-1zM526,393h1v3h-1zM527,188h1v2h-1zM527,391h1v2h-1zM528,190h1v2h-1zM528,389h1v2h-1zM529,192h1v3h-1zM529,386h1v3h-1zM530,195h1v2h-1zM530,384h1v2h-1zM531,197h1v2h-1zM531,382h1v2h-1zM532,199h1v3h-1zM532,379h1v3h-1zM533,202h1v3h-1zM533,376h1v3h-1zM534,205h1v3h-1zM534,373h1v3h-1zM535,208h1v2h-1zM535,371h1v2h-1zM536,210h1v3h-1zM536,368h1v3h-1zM537,213h1v4h-1zM537,364h1v4h-1zM538,217h1v3h-1zM538,361h1v3h-1zM539,220h1v3h-1zM539,358h1v3h-1zM540,223h1v4h-1zM540,354h1v4h-1zM541,227h1v4h-1zM541,350h1v4h-1zM542,231h1v4h-1zM542,346h1v4h-1zM543,235h1v5h-1zM543,341h1v5h-1zM544,240h1v5h-1zM544,336h1v5h-1zM545,245h1v6h-1zM545,330h1v6h-1zM546,251h1v7h-1zM546,323h1v7h-1zM547,258h1v8h-1zM547,315h1v8h-1zM548,266h1v15h-1zM548,300h1v15h-1zM549,281h1v19h-1z"/>
<path d="M49,291h501v1h-501zM58,226h2v1h-2zM58,356h2v1h-2zM60,227h4v1h-4zM60,355h4v1h-4zM64,228h3v1h-3zM64,354h3v1h-3zM67,229h4v1h-4zM67,353h4v1h-4zM71,230h4v1h-4zM71,352h4v1h-4zM75,231h3v1h-3zM75,351h3v1h-3zM78,232h4v1h-4zM78,350h4v1h-4zM82,233h4v1h-4zM82,349h4v1h-4zM83,416h1v1h-1zM83,166h2v1h-2zM84,415h2v1h-2zM85,167h2v1h-2zM86,414h1v1h-1zM86,234h4v1h-4zM86,348h4v1h-4zM87,168h1v1h-1zM87,413h2v1h-2zM88,169h2v1h-2zM89,412h2v1h-2zM90,170h2v1h-2zM90,235h3v1h-3zM90,347h3v1h-3zM91,411h1v1h-1zM92,171h2v1h-2zM92,410h2v1h-2zM93,236h4v1h-4zM93,346h4v1h-4zM94,172h1v1h-1zM94,409h2v1h-2zM95,173h2v1h-2zM96,408h2v1h-2zM97,174h2v1h-2zM97,237h4v1h-4zM97,345h4v1h-4zM98,407h1v1h-1zM99,175h1v1h-1zM99,406h2v1h-2zM100,176h2v1h-2zM101,405h2v1h-2zM101,238h4v1h-4zM101,344h4v1h-4zM102,177h2v1h-2zM103,404h2v1h-2zM104,178h2v1h-2zM105,403h1v1h-1zM105,239h3v1h-3zM105,343h3v1h-3zM106,179h1v1h-1zM106,402h2v1h-2zM107,180h2v1h-2zM108,401h2v1h-2zM108,240h4v1h-4zM108,342h4v1h-4zM109,181h2v1h-2zM110,400h2v1h-2zM111,182h2v1h-2zM112,399h1v1h-1zM112,241h4v1h-4zM112,341h4v1h-4zM113,183h1v1h-1zM113,398h2v1h-2zM114,184h2v1h-2zM115,397h2v1h-2zM116,185h2v1h-2zM116,242h3v1h-3zM116,340h3v1h-3zM117,396h1v1h-1zM118,186h2v1h-2zM118,395h2v1h-2zM119,243h4v1h-4zM119,339h4v1h-4zM120,187h1v1h-1zM120,394h2v1h-2zM121,188h2v1h-2zM122,393h2v1h-2zM123,114h1v1h-1zM123,467h1v1h-1zM123,189h2v1h-2zM123,244h4v1h-4zM123,338h4v1h-4zM124,115h1v1h-1zM124,392h1v1h-1zM124,466h1v1h-1zM125,116h1v1h-1zM125,190h1v1h-1zM125,465h1v1h-1zM125,391h2v1h-2zM126,117h1v1h-1zM126,464h1v1h-1zM126,191h2v1h-2zM127,118h1v1h-1zM127,463h1v1h-1zM127,390h2v1h-2zM127,245h4v1h-4zM127,337h4v1h-4zM128,119h1v1h-1zM128,462h1v1h-1zM128,192h2v1h-2zM129,120h1v1h-1zM129,461h1v1h-1zM129,389h2v1h-2zM130,121h1v1h-1zM130,460h1v1h-1zM130,193h2v1h-2zM131,122h1v1h-1zM131,388h1v1h-1zM131,459h1v1h-1zM131,246h3v1h-3zM131,336h3v1h-3zM132,123h1v1h-1zM132,194h1v1h-1zM132,458h1v1h-1zM132,387h2v1h-2zM133,124h1v1h-1zM133,457h1v1h-1zM133,195h2v1h-2zM134,125h1v1h-1zM134,456h1v1h-1zM134,386h2v1h-2zM134,247h4v1h-4zM134,335h4v1h-4zM135,126h1v1h-1zM135,455h1v1h-1zM135,196h2v1h-2zM136,127h1v1h-1zM136,454h1v1h-1zM136,385h2v1h-2zM137,128h1v1h-1zM137,453h1v1h-1zM137,197h2v1h-2zM138,129h1v1h-1zM138,384h1v1h-1zM138,452h1v1h-1zM138,248h4v1h-4zM138,334h4v1h-4zM139,130h1v1h-1zM139,198h1v1h-1zM139,451h1v1h-1zM139,383h2v1h-2zM140,131h1v1h-1zM140,450h1v1h-1zM140,199h2v1h-2zM141,132h1v1h-1zM141,449h1v1h-1zM141,382h2v1h-2zM142,133h1v1h-1zM142,448h1v1h-1zM142,200h2v1h-2zM142,249h4v1h-4zM142,333h4v1h-4zM143,134h1v1h-1zM143,381h1v1h-1zM143,447h1v1h-1zM144,135h1v1h-1zM144,201h1v1h-1zM144,446h1v1h-1zM144,380h2v1h-2zM145,136h1v1h-1zM145,445h1v1h-1zM145,202h2v1h-2zM146,137h1v1h-1zM146,444h1v1h-1zM146,379h2v1h-2zM146,250h3v1h-3zM146,332h3v1h-3zM147,138h1v1h-1zM147,443h1v1h-1zM147,203h2v1h-2zM148,139h1v1h-1zM148,442h1v1h-1zM148,378h2v1h-2zM149,140h1v1h-1zM149,441h1v1h-1zM149,204h2v1h-2zM149,251h4v1h-4zM149,331h4v1h-4zM150,141h1v1h-1zM150,377h1v1h-1zM150,440h1v1h-1zM151,142h1v1h-1zM151,205h1v1h-1zM151,439h1v1h-1zM151,376h2v1h-2zM152,143h1v1h-1zM152,438h1v1h-1zM152,206h2v1h-2zM153,144h1v1h-1zM153,437h1v1h-1zM153,375h2v1h-2zM153,252h4v1h-4zM153,330h4v1h-4zM154,145h1v1h-1zM154,436h1v1h-1zM154,207h2v1h-2zM155,146h1v1h-1zM155,435h1v1h-1zM155,374h2v1h-2zM156,147h1v1h-1zM156,434h1v1h-1zM156,208h2v1h-2zM157,148h1v1h-1zM157,373h1v1h-1zM157,433h1v1h-1zM157,253h4v1h-4zM157,329h4v1h-4zM158,149h1v1h-1zM158,209h1v1h-1zM158,432h1v1h-1zM158,372h2v1h-2zM159,150h1v1h-1zM159,431h1v1h-1zM159,210h2v1h-2zM160,151h1v1h-1zM160,430h1v1h-1zM160,371h2v1h-2zM161,152h1v1h-1zM161,429h1v1h-1zM161,211h2v1h-2zM161,254h3v1h-3zM161,328h3v1h-3zM162,153h1v1h-1zM162,370h1v1h-1zM162,428h1v1h-1zM163,154h1v1h-1zM163,427h1v1h-1zM163,212h2v1h-2zM163,369h2v1h-2zM164,155h1v1h-1zM164,426h1v1h-1zM164,255h4v1h-4zM164,327h4v1h-4zM165,156h1v1h-1zM165,213h1v1h-1zM165,425h1v1h-1zM165,368h2v1h-2zM166,157h1v1h-1zM166,424h1v1h-1zM166,214h2v1h-2zM167,158h1v1h-1zM167,423h1v1h-1zM167,367h2v1h-2zM168,159h1v1h-1zM168,422h1v1h-1zM168,215h2v1h-2zM168,256h4v1h-4zM168,326h4v1h-4zM169,160h1v1h-1zM169,366h1v1h-1zM169,421h1v1h-1zM170,161h1v1h-1zM170,216h1v1h-1zM170,420h1v1h-1zM170,365h2v1h-2zM171,162h1v1h-1zM171,419h1v1h-1zM171,217h2v1h-2zM172,163h1v1h-1zM172,418h1v1h-1zM172,364h2v1h-2zM172,257h3v1h-3zM172,325h3v1h-3zM173,164h1v1h-1zM173,417h1v1h-1zM173,218h2v1h-2zM174,165h1v1h-1zM174,416h1v1h-1zM174,363h2v1h-2zM175,74h1v2h-1zM175,166h1v1h-1zM175,415h1v1h-1zM175,506h1v2h-1zM175,219h2v1h-2zM175,258h4v1h-4zM175,324h4v1h-4zM176,76h1v2h-1zM176,167h1v1h-1zM176,362h1v1h-1zM176,414h1v1h-1zM176,504h1v2h-1zM177,78h1v1h-1zM177,168h1v1h-1zM177,220h1v1h-1zM177,413h1v1h-1zM177,503h1v1h-1zM177,361h2v1h-2zM178,79h1v2h-1zM178,169h1v1h-1zM178,412h1v1h-1zM178,501h1v2h-1zM178,221h2v1h-2zM179,81h1v2h-1zM179,170h1v1h-1zM179,411h1v1h-1zM179,499h1v2h-1zM179,360h2v1h-2zM179,259h4v1h-4zM179,323h4v1h-4zM180,83h1v2h-1zM180,171h1v1h-1zM180,410h1v1h-1zM180,497h1v2h-1zM180,222h2v1h-2zM181,85h1v1h-1zM181,172h1v1h-1zM181,409h1v1h-1zM181,496h1v1h-1zM181,359h2v1h-2zM182,86h1v2h-1zM182,173h1v1h-1zM182,408h1v1h-1zM182,494h1v2h-1zM182,223h2v1h-2zM183,88h1v2h-1zM183,174h1v1h-1zM183,358h1v1h-1zM183,407h1v1h-1zM183,492h1v2h-1zM183,260h4v1h-4zM183,322h4v1h-4zM184,90h1v1h-1zM184,175h1v1h-1zM184,224h1v1h-1zM184,406h1v1h-1zM184,491h1v1h-1zM184,357h2v1h-2zM185,91h1v2h-1zM185,176h1v1h-1zM185,405h1v1h-1zM185,489h1v2h-1zM185,225h2v1h-2zM186,93h1v2h-1zM186,177h1v1h-1zM186,404h1v1h-1zM186,487h1v2h-1zM186,356h2v1h-2zM187,95h1v2h-1zM187,178h1v1h-1zM187,403h1v1h-1zM187,485h1v2h-1zM187,226h2v1h-2zM187,261h3v1h-3zM187,321h3v1h-3zM188,97h1v1h-1zM188,179h1v1h-1zM188,355h1v1h-1zM188,402h1v1h-1zM188,484h1v1h-1zM189,98h1v2h-1zM189,180h1v1h-1zM189,401h1v1h-1zM189,482h1v2h-1zM189,227h2v1h-2zM189,354h2v1h-2zM190,100h1v2h-1zM190,181h1v1h-1zM190,400h1v1h-1zM190,480h1v2h-1zM190,262h4v1h-4zM190,320h4v1h-4zM191,102h1v2h-1zM191,182h1v1h-1zM191,228h1v1h-1zM191,399h1v1h-1zM191,478h1v2h-1zM191,353h2v1h-2zM192,104h1v1h-1zM192,183h1v1h-1zM192,398h1v1h-1zM192,477h1v1h-1zM192,229h2v1h-2zM193,105h1v2h-1zM193,184h1v1h-1zM193,397h1v1h-1zM193,475h1v2h-1zM193,352h2v1h-2zM194,107h1v2h-1zM194,185h1v1h-1zM194,396h1v1h-1zM194,473h1v2h-1zM194,230h2v1h-2zM194,263h4v1h-4zM194,319h4v1h-4zM195,109h1v2h-1zM195,186h1v1h-1zM195,351h1v1h-1zM195,395h1v1h-1zM195,471h1v2h-1zM196,111h1v1h-1zM196,187h1v1h-1zM196,231h1v1h-1zM196,394h1v1h-1zM196,470h1v1h-1zM196,350h2v1h-2zM197,112h1v2h-1zM197,188h1v1h-1zM197,393h1v1h-1zM197,468h1v2h-1zM197,232h2v1h-2zM198,114h1v2h-1zM198,189h1v1h-1zM198,392h1v1h-1zM198,466h1v2h-1zM198,349h2v1h-2zM198,264h4v1h-4zM198,318h4v1h-4zM199,116h1v1h-1zM199,190h1v1h-1zM199,391h1v1h-1zM199,465h1v1h-1zM199,233h2v1h-2zM200,117h1v2h-1zM200,191h1v1h-1zM200,390h1v1h-1zM200,463h1v2h-1zM200,348h2v1h-2zM201,119h1v2h-1zM201,192h1v1h-1zM201,389h1v1h-1zM201,461h1v2h-1zM201,234h2v1h-2zM202,121h1v2h-1zM202,193h1v1h-1zM202,347h1v1h-1zM202,388h1v1h-1zM202,459h1v2h-1zM202,265h3v1h-3zM202,317h3v1h-3zM203,123h1v1h-1zM203,194h1v1h-1zM203,235h1v1h-1zM203,387h1v1h-1zM203,458h1v1h-1zM203,346h2v1h-2zM204,124h1v2h-1zM204,195h1v1h-1zM204,386h1v1h-1zM204,456h1v2h-1zM204,236h2v1h-2zM205,126h1v2h-1zM205,196h1v1h-1zM205,385h1v1h-1zM205,454h1v2h-1zM205,345h2v1h-2zM205,266h4v1h-4zM205,316h4v1h-4zM206,128h1v2h-1zM206,197h1v1h-1zM206,384h1v1h-1zM206,452h1v2h-1zM206,237h2v1h-2zM207,130h1v1h-1zM207,198h1v1h-1zM207,383h1v1h-1zM207,451h1v1h-1zM207,344h2v1h-2zM208,131h1v2h-1zM208,199h1v1h-1zM208,382h1v1h-1zM208,449h1v2h-1zM208,238h2v1h-2zM209,133h1v2h-1zM209,200h1v1h-1zM209,343h1v1h-1zM209,381h1v1h-1zM209,447h1v2h-1zM209,267h4v1h-4zM209,315h4v1h-4zM210,135h1v1h-1zM210,201h1v1h-1zM210,239h1v1h-1zM210,380h1v1h-1zM210,445h1v2h-1zM210,342h2v1h-2zM211,136h1v2h-1zM211,202h1v1h-1zM211,379h1v1h-1zM211,444h1v1h-1zM211,240h2v1h-2zM212,138h1v2h-1zM212,203h1v1h-1zM212,378h1v1h-1zM212,442h1v2h-1zM212,341h2v1h-2zM213,140h1v2h-1zM213,204h1v1h-1zM213,377h1v1h-1zM213,440h1v2h-1zM213,241h2v1h-2zM213,268h4v1h-4zM213,314h4v1h-4zM214,142h1v1h-1zM214,205h1v1h-1zM214,340h1v1h-1zM214,376h1v1h-1zM214,439h1v1h-1zM215,143h1v2h-1zM215,206h1v1h-1zM215,242h1v1h-1zM215,375h1v1h-1zM215,437h1v2h-1zM215,339h2v1h-2zM216,145h1v2h-1zM216,207h1v1h-1zM216,374h1v1h-1zM216,435h1v2h-1zM216,243h2v1h-2zM217,147h1v2h-1zM217,208h1v1h-1zM217,373h1v1h-1zM217,433h1v2h-1zM217,338h2v1h-2zM217,269h3v1h-3zM217,313h3v1h-3zM218,149h1v1h-1zM218,209h1v1h-1zM218,372h1v1h-1zM218,432h1v1h-1zM218,244h2v1h-2zM219,150h1v2h-1zM219,210h1v1h-1zM219,371h1v1h-1zM219,430h1v2h-1zM219,337h2v1h-2zM220,152h1v2h-1zM220,211h1v1h-1zM220,370h1v1h-1zM220,428h1v2h-1zM220,245h2v1h-2zM220,270h4v1h-4zM220,312h4v1h-4zM221,154h1v2h-1zM221,212h1v1h-1zM221,336h1v1h-1zM221,369h1v1h-1zM221,426h1v2h-1zM222,156h1v1h-1zM222,213h1v1h-1zM222,246h1v1h-1zM222,368h1v1h-1zM222,425h1v1h-1zM222,335h2v1h-2zM223,157h1v2h-1zM223,214h1v1h-1zM223,367h1v1h-1zM223,423h1v2h-1zM223,247h2v1h-2zM224,159h1v2h-1zM224,215h1v1h-1zM224,366h1v1h-1zM224,421h1v2h-1zM224,334h2v1h-2zM224,271h4v1h-4zM224,311h4v1h-4zM225,161h1v1h-1zM225,216h1v1h-1zM225,365h1v1h-1zM225,419h1v2h-1zM225,248h2v1h-2zM226,162h1v2h-1zM226,217h1v1h-1zM226,364h1v1h-1zM226,418h1v1h-1zM226,333h2v1h-2zM227,164h1v2h-1zM227,218h1v1h-1zM227,363h1v1h-1zM227,416h1v2h-1zM227,249h2v1h-2zM228,166h1v2h-1zM228,219h1v1h-1zM228,332h1v1h-1zM228,362h1v1h-1zM228,414h1v2h-1zM228,272h3v1h-3zM228,310h3v1h-3zM229,168h1v1h-1zM229,220h1v1h-1zM229,250h1v1h-1zM229,361h1v1h-1zM229,413h1v1h-1zM229,331h2v1h-2zM230,169h1v2h-1zM230,221h1v1h-1zM230,360h1v1h-1zM230,411h1v2h-1zM230,251h2v1h-2zM231,171h1v2h-1zM231,222h1v1h-1zM231,359h1v1h-1zM231,409h1v2h-1zM231,330h2v1h-2zM231,273h4v1h-4zM231,309h4v1h-4zM232,173h1v2h-1zM232,223h1v1h-1zM232,358h1v1h-1zM232,407h1v2h-1zM232,252h2v1h-2zM233,175h1v1h-1zM233,224h1v1h-1zM233,357h1v1h-1zM233,406h1v1h-1zM233,329h2v1h-2zM234,176h1v2h-1zM234,225h1v1h-1zM234,356h1v1h-1zM234,404h1v2h-1zM234,253h2v1h-2zM235,49h1v2h-1zM235,178h1v2h-1zM235,226h1v1h-1zM235,328h1v1h-1zM235,355h1v1h-1zM235,402h1v2h-1zM235,274h4v1h-4zM235,308h4v1h-4zM236,51h1v4h-1zM236,180h1v2h-1zM236,227h1v1h-1zM236,254h1v1h-1zM236,354h1v1h-1zM236,400h1v2h-1zM236,528h1v4h-1zM236,327h2v1h-2zM237,55h1v3h-1zM237,182h1v1h-1zM237,228h1v1h-1zM237,353h1v1h-1zM237,399h1v1h-1zM237,525h1v3h-1zM237,255h2v1h-2zM238,58h1v4h-1zM238,183h1v2h-1zM238,229h1v1h-1zM238,352h1v1h-1zM238,397h1v2h-1zM238,521h1v4h-1zM238,326h2v1h-2zM239,62h1v4h-1zM239,185h1v2h-1zM239,230h1v1h-1zM239,275h1v1h-1zM239,351h1v1h-1zM239,395h1v2h-1zM239,517h1v4h-1zM239,256h2v1h-2zM239,307h2v1h-2zM240,66h1v3h-1zM240,187h1v1h-1zM240,231h1v1h-1zM240,325h1v1h-1zM240,350h1v1h-1zM240,394h1v1h-1zM240,514h1v3h-1zM241,69h1v4h-1zM241,188h1v2h-1zM241,232h1v1h-1zM241,257h1v1h-1zM241,349h1v1h-1zM241,392h1v2h-1zM241,510h1v4h-1zM241,324h2v1h-2zM242,73h1v4h-1zM242,190h1v2h-1zM242,233h1v1h-1zM242,348h1v1h-1zM242,390h1v2h-1zM242,506h1v4h-1zM242,258h2v1h-2zM243,77h1v4h-1zM243,192h1v2h-1zM243,234h1v1h-1zM243,347h1v1h-1zM243,388h1v2h-1zM243,502h1v4h-1zM243,323h2v1h-2zM244,81h1v3h-1zM244,194h1v1h-1zM244,235h1v1h-1zM244,346h1v1h-1zM244,387h1v1h-1zM244,499h1v3h-1zM244,259h2v1h-2zM245,84h1v4h-1zM245,195h1v2h-1zM245,236h1v1h-1zM245,345h1v1h-1zM245,385h1v2h-1zM245,495h1v4h-1zM245,322h2v1h-2zM246,88h1v4h-1zM246,197h1v2h-1zM246,237h1v1h-1zM246,344h1v1h-1zM246,383h1v2h-1zM246,491h1v4h-1zM247,92h1v4h-1zM247,199h1v2h-1zM247,238h1v1h-1zM247,343h1v1h-1zM247,381h1v2h-1zM247,487h1v4h-1zM248,96h1v3h-1zM248,201h1v1h-1zM248,239h1v1h-1zM248,342h1v1h-1zM248,380h1v1h-1zM248,484h1v3h-1zM249,99h1v4h-1zM249,202h1v2h-1zM249,240h1v1h-1zM249,341h1v1h-1zM249,378h1v2h-1zM249,480h1v4h-1zM250,103h1v4h-1zM250,204h1v2h-1zM250,241h1v1h-1zM250,340h1v1h-1zM250,376h1v2h-1zM250,476h1v4h-1zM251,107h1v3h-1zM251,206h1v1h-1zM251,242h1v1h-1zM251,339h1v1h-1zM251,374h1v2h-1zM251,473h1v3h-1zM252,110h1v4h-1zM252,207h1v2h-1zM252,243h1v1h-1zM252,338h1v1h-1zM252,373h1v1h-1zM252,469h1v4h-1zM253,114h1v4h-1zM253,209h1v2h-1zM253,244h1v1h-1zM253,337h1v1h-1zM253,371h1v2h-1zM253,465h1v4h-1zM254,118h1v4h-1zM254,211h1v2h-1zM254,245h1v1h-1zM254,336h1v1h-1zM254,369h1v2h-1zM254,461h1v4h-1zM255,122h1v3h-1zM255,213h1v1h-1zM255,246h1v1h-1zM255,335h1v1h-1zM255,368h1v1h-1zM255,458h1v3h-1zM256,125h1v4h-1zM256,214h1v2h-1zM256,334h1v1h-1zM256,366h1v2h-1zM256,454h1v4h-1zM257,129h1v4h-1zM257,216h1v2h-1zM257,364h1v2h-1zM257,450h1v4h-1zM258,133h1v4h-1zM258,218h1v2h-1zM258,362h1v2h-1zM258,446h1v4h-1zM259,137h1v3h-1zM259,220h1v1h-1zM259,361h1v1h-1zM259,443h1v3h-1zM260,140h1v4h-1zM260,221h1v2h-1zM260,359h1v2h-1zM260,439h1v4h-1zM261,144h1v4h-1zM261,223h1v2h-1zM261,357h1v2h-1zM261,435h1v4h-1zM262,148h1v4h-1zM262,225h1v2h-1zM262,355h1v2h-1zM262,431h1v4h-1zM263,152h1v3h-1zM263,227h1v1h-1zM263,354h1v1h-1zM263,428h1v3h-1zM264,155h1v4h-1zM264,228h1v2h-1zM264,352h1v2h-1zM264,424h1v4h-1zM265,159h1v4h-1zM265,230h1v2h-1zM265,350h1v2h-1zM265,420h1v4h-1zM266,163h1v3h-1zM266,232h1v1h-1zM266,348h1v2h-1zM266,417h1v3h-1zM267,166h1v4h-1zM267,233h1v2h-1zM267,347h1v1h-1zM267,413h1v4h-1zM268,170h1v4h-1zM268,235h1v2h-1zM268,345h1v2h-1zM268,409h1v4h-1zM269,174h1v4h-1zM269,344h1v1h-1zM269,405h1v4h-1zM270,178h1v3h-1zM270,402h1v3h-1zM271,181h1v4h-1zM271,398h1v4h-1zM272,185h1v4h-1zM272,394h1v4h-1zM273,189h1v4h-1zM273,390h1v4h-1zM274,193h1v3h-1zM274,387h1v3h-1zM275,196h1v4h-1zM275,383h1v4h-1zM276,200h1v4h-1zM276,379h1v4h-1zM277,204h1v4h-1zM277,375h1v4h-1zM278,208h1v3h-1zM278,372h1v3h-1zM279,211h1v4h-1zM279,368h1v4h-1zM280,215h1v4h-1zM280,364h1v4h-1zM281,219h1v3h-1zM281,361h1v3h-1zM282,222h1v4h-1zM282,357h1v4h-1zM283,226h1v4h-1zM283,353h1v4h-1zM284,230h1v1h-1zM284,350h1v3h-1zM300,40h1v251h-1zM300,292h1v249h-1zM316,230h1v2h-1zM316,349h1v4h-1zM317,226h1v4h-1zM317,353h1v4h-1zM318,222h1v4h-1zM318,357h1v4h-1zM319,219h1v3h-1zM319,361h1v3h-1zM320,215h1v4h-1zM320,364h1v4h-1zM321,211h1v4h-1zM321,368h1v4h-1zM322,208h1v3h-1zM322,372h1v3h-1zM323,204h1v4h-1zM323,375h1v4h-1zM324,200h1v4h-1zM324,379h1v4h-1zM325,196h1v4h-1zM325,383h1v4h-1zM326,193h1v3h-1zM326,387h1v3h-1zM327,189h1v4h-1zM327,390h1v4h-1zM328,185h1v4h-1zM328,394h1v4h-1zM329,181h1v4h-1zM329,398h1v4h-1zM330,178h1v3h-1zM330,343h1v2h-1zM330,402h1v3h-1zM331,174h1v4h-1zM331,236h1v2h-1zM331,345h1v2h-1zM331,405h1v4h-1zM332,170h1v4h-1zM332,234h1v2h-1zM332,347h1v2h-1zM332,409h1v4h-1zM333,166h1v4h-1zM333,232h1v2h-1zM333,349h1v1h-1zM333,413h1v4h-1zM334,163h1v3h-1zM334,231h1v1h-1zM334,350h1v2h-1zM334,417h1v3h-1zM335,159h1v4h-1zM335,229h1v2h-1zM335,352h1v2h-1zM335,420h1v4h-1zM336,155h1v4h-1zM336,227h1v2h-1zM336,354h1v2h-1zM336,424h1v4h-1zM337,152h1v3h-1zM337,226h1v1h-1zM337,356h1v1h-1zM337,428h1v3h-1zM338,148h1v4h-1zM338,224h1v2h-1zM338,357h1v2h-1zM338,431h1v4h-1zM339,144h1v4h-1zM339,222h1v2h-1zM339,359h1v2h-1zM339,435h1v4h-1zM340,140h1v4h-1zM340,220h1v2h-1zM340,361h1v2h-1zM340,439h1v4h-1zM341,137h1v3h-1zM341,219h1v1h-1zM341,363h1v1h-1zM341,443h1v3h-1zM342,133h1v4h-1zM342,217h1v2h-1zM342,364h1v2h-1zM342,446h1v4h-1zM343,129h1v4h-1zM343,215h1v2h-1zM343,334h1v1h-1zM343,366h1v2h-1zM343,450h1v4h-1zM344,125h1v4h-1zM344,213h1v2h-1zM344,247h1v1h-1zM344,335h1v1h-1zM344,368h1v1h-1zM344,454h1v4h-1zM345,122h1v3h-1zM345,212h1v1h-1zM345,246h1v1h-1zM345,336h1v1h-1zM345,369h1v2h-1zM345,458h1v3h-1zM346,118h1v4h-1zM346,210h1v2h-1zM346,245h1v1h-1zM346,337h1v1h-1zM346,371h1v2h-1zM346,461h1v4h-1zM347,114h1v4h-1zM347,208h1v2h-1zM347,244h1v1h-1zM347,338h1v1h-1zM347,373h1v2h-1zM347,465h1v4h-1zM348,110h1v4h-1zM348,206h1v2h-1zM348,243h1v1h-1zM348,339h1v1h-1zM348,375h1v1h-1zM348,469h1v4h-1zM349,107h1v3h-1zM349,205h1v1h-1zM349,242h1v1h-1zM349,340h1v1h-1zM349,376h1v2h-1zM349,473h1v3h-1zM350,103h1v4h-1zM350,203h1v2h-1zM350,241h1v1h-1zM350,341h1v1h-1zM350,378h1v2h-1zM350,476h1v4h-1zM351,99h1v4h-1zM351,201h1v2h-1zM351,240h1v1h-1zM351,342h1v1h-1zM351,380h1v2h-1zM351,480h1v4h-1zM352,96h1v3h-1zM352,200h1v1h-1zM352,239h1v1h-1zM352,343h1v1h-1zM352,382h1v1h-1zM352,484h1v3h-1zM353,92h1v4h-1zM353,198h1v2h-1zM353,238h1v1h-1zM353,321h1v1h-1zM353,344h1v1h-1zM353,383h1v2h-1zM353,487h1v4h-1zM353,260h2v1h-2zM354,88h1v4h-1zM354,196h1v2h-1zM354,237h1v1h-1zM354,345h1v1h-1zM354,385h1v2h-1zM354,491h1v4h-1zM354,322h2v1h-2zM355,84h1v4h-1zM355,194h1v2h-1zM355,236h1v1h-1zM355,346h1v1h-1zM355,387h1v1h-1zM355,495h1v4h-1zM355,259h2v1h-2zM356,81h1v3h-1zM356,193h1v1h-1zM356,235h1v1h-1zM356,347h1v1h-1zM356,388h1v2h-1zM356,499h1v3h-1zM356,323h2v1h-2zM357,77h1v4h-1zM357,191h1v2h-1zM357,234h1v1h-1zM357,348h1v1h-1zM357,390h1v2h-1zM357,502h1v4h-1zM357,258h2v1h-2zM358,73h1v4h-1zM358,189h1v2h-1zM358,233h1v1h-1zM358,349h1v1h-1zM358,392h1v2h-1zM358,506h1v4h-1zM358,324h2v1h-2zM359,69h1v4h-1zM359,187h1v2h-1zM359,232h1v1h-1zM359,257h1v1h-1zM359,306h1v1h-1zM359,350h1v1h-1zM359,394h1v1h-1zM359,510h1v4h-1zM359,275h3v1h-3zM360,66h1v3h-1zM360,186h1v1h-1zM360,231h1v1h-1zM360,325h1v1h-1zM360,351h1v1h-1zM360,395h1v2h-1zM360,514h1v3h-1zM360,256h2v1h-2zM360,307h4v1h-4zM361,62h1v4h-1zM361,184h1v2h-1zM361,230h1v1h-1zM361,352h1v1h-1zM361,397h1v2h-1zM361,517h1v4h-1zM361,326h2v1h-2zM362,58h1v4h-1zM362,182h1v2h-1zM362,229h1v1h-1zM362,353h1v1h-1zM362,399h1v2h-1zM362,521h1v4h-1zM362,255h2v1h-2zM362,274h4v1h-4zM363,55h1v3h-1zM363,180h1v2h-1zM363,228h1v1h-1zM363,354h1v1h-1zM363,401h1v1h-1zM363,525h1v3h-1zM363,327h2v1h-2zM364,51h1v4h-1zM364,179h1v1h-1zM364,227h1v1h-1zM364,254h1v1h-1zM364,355h1v1h-1zM364,402h1v2h-1zM364,528h1v4h-1zM364,308h3v1h-3zM365,49h1v2h-1zM365,177h1v2h-1zM365,226h1v1h-1zM365,328h1v1h-1zM365,356h1v1h-1zM365,404h1v2h-1zM365,253h2v1h-2zM366,175h1v2h-1zM366,225h1v1h-1zM366,357h1v1h-1zM366,406h1v2h-1zM366,329h2v1h-2zM366,273h4v1h-4zM367,174h1v1h-1zM367,224h1v1h-1zM367,358h1v1h-1zM367,408h1v1h-1zM367,252h2v1h-2zM367,309h4v1h-4zM368,172h1v2h-1zM368,223h1v1h-1zM368,359h1v1h-1zM368,409h1v2h-1zM368,330h2v1h-2zM369,170h1v2h-1zM369,222h1v1h-1zM369,360h1v1h-1zM369,411h1v2h-1zM369,251h2v1h-2zM370,168h1v2h-1zM370,221h1v1h-1zM370,361h1v1h-1zM370,413h1v1h-1zM370,331h2v1h-2zM370,272h3v1h-3zM371,167h1v1h-1zM371,220h1v1h-1zM371,250h1v1h-1zM371,362h1v1h-1zM371,414h1v2h-1zM371,310h4v1h-4zM372,165h1v2h-1zM372,219h1v1h-1zM372,332h1v1h-1zM372,363h1v1h-1zM372,416h1v2h-1zM372,249h2v1h-2zM373,163h1v2h-1zM373,218h1v1h-1zM373,364h1v1h-1zM373,418h1v2h-1zM373,333h2v1h-2zM373,271h4v1h-4zM374,161h1v2h-1zM374,217h1v1h-1zM374,365h1v1h-1zM374,420h1v1h-1zM374,248h2v1h-2zM375,160h1v1h-1zM375,216h1v1h-1zM375,366h1v1h-1zM375,421h1v2h-1zM375,334h2v1h-2zM375,311h3v1h-3zM376,158h1v2h-1zM376,215h1v1h-1zM376,367h1v1h-1zM376,423h1v2h-1zM376,247h2v1h-2zM377,156h1v2h-1zM377,214h1v1h-1zM377,368h1v1h-1zM377,425h1v2h-1zM377,335h2v1h-2zM377,270h4v1h-4zM378,154h1v2h-1zM378,213h1v1h-1zM378,246h1v1h-1zM378,369h1v1h-1zM378,427h1v1h-1zM378,312h4v1h-4zM379,153h1v1h-1zM379,212h1v1h-1zM379,336h1v1h-1zM379,370h1v1h-1zM379,428h1v2h-1zM379,245h2v1h-2zM380,151h1v2h-1zM380,211h1v1h-1zM380,371h1v1h-1zM380,430h1v2h-1zM380,337h2v1h-2zM381,149h1v2h-1zM381,210h1v1h-1zM381,372h1v1h-1zM381,432h1v2h-1zM381,244h2v1h-2zM381,269h3v1h-3zM382,148h1v1h-1zM382,209h1v1h-1zM382,373h1v1h-1zM382,434h1v1h-1zM382,338h2v1h-2zM382,313h4v1h-4zM383,146h1v2h-1zM383,208h1v1h-1zM383,374h1v1h-1zM383,435h1v2h-1zM383,243h2v1h-2zM384,144h1v2h-1zM384,207h1v1h-1zM384,375h1v1h-1zM384,437h1v2h-1zM384,339h2v1h-2zM384,268h4v1h-4zM385,142h1v2h-1zM385,206h1v1h-1zM385,242h1v1h-1zM385,376h1v1h-1zM385,439h1v1h-1zM386,141h1v1h-1zM386,205h1v1h-1zM386,340h1v1h-1zM386,377h1v1h-1zM386,440h1v2h-1zM386,241h2v1h-2zM386,314h4v1h-4zM387,139h1v2h-1zM387,204h1v1h-1zM387,378h1v1h-1zM387,442h1v2h-1zM387,341h2v1h-2zM388,137h1v2h-1zM388,203h1v1h-1zM388,379h1v1h-1zM388,444h1v2h-1zM388,240h2v1h-2zM388,267h4v1h-4zM389,135h1v2h-1zM389,202h1v1h-1zM389,380h1v1h-1zM389,446h1v1h-1zM389,342h2v1h-2zM390,134h1v1h-1zM390,201h1v1h-1zM390,239h1v1h-1zM390,381h1v1h-1zM390,447h1v2h-1zM390,315h3v1h-3zM391,132h1v2h-1zM391,200h1v1h-1zM391,343h1v1h-1zM391,382h1v1h-1zM391,449h1v2h-1zM391,238h2v1h-2zM392,130h1v2h-1zM392,199h1v1h-1zM392,383h1v1h-1zM392,451h1v2h-1zM392,344h2v1h-2zM392,266h4v1h-4zM393,129h1v1h-1zM393,198h1v1h-1zM393,384h1v1h-1zM393,453h1v1h-1zM393,237h2v1h-2zM393,316h4v1h-4zM394,127h1v2h-1zM394,197h1v1h-1zM394,385h1v1h-1zM394,454h1v2h-1zM394,345h2v1h-2zM395,125h1v2h-1zM395,196h1v1h-1zM395,386h1v1h-1zM395,456h1v2h-1zM395,236h2v1h-2zM396,123h1v2h-1zM396,195h1v1h-1zM396,387h1v1h-1zM396,458h1v2h-1zM396,346h2v1h-2zM396,265h3v1h-3zM397,122h1v1h-1zM397,194h1v1h-1zM397,235h1v1h-1zM397,388h1v1h-1zM397,460h1v1h-1zM397,317h4v1h-4zM398,120h1v2h-1zM398,193h1v1h-1zM398,347h1v1h-1zM398,389h1v1h-1zM398,461h1v2h-1zM398,234h2v1h-2zM399,118h1v2h-1zM399,192h1v1h-1zM399,390h1v1h-1zM399,463h1v2h-1zM399,348h2v1h-2zM399,264h4v1h-4zM400,116h1v2h-1zM400,191h1v1h-1zM400,391h1v1h-1zM400,465h1v1h-1zM400,233h2v1h-2zM401,115h1v1h-1zM401,190h1v1h-1zM401,392h1v1h-1zM401,466h1v2h-1zM401,349h2v1h-2zM401,318h4v1h-4zM402,113h1v2h-1zM402,189h1v1h-1zM402,393h1v1h-1zM402,468h1v2h-1zM402,232h2v1h-2zM403,111h1v2h-1zM403,188h1v1h-1zM403,394h1v1h-1zM403,470h1v2h-1zM403,350h2v1h-2zM403,263h4v1h-4zM404,109h1v2h-1zM404,187h1v1h-1zM404,231h1v1h-1zM404,395h1v1h-1zM404,472h1v1h-1zM405,108h1v1h-1zM405,186h1v1h-1zM405,351h1v1h-1zM405,396h1v1h-1zM405,473h1v2h-1zM405,230h2v1h-2zM405,319h3v1h-3zM406,106h1v2h-1zM406,185h1v1h-1zM406,397h1v1h-1zM406,475h1v2h-1zM406,352h2v1h-2zM407,104h1v2h-1zM407,184h1v1h-1zM407,398h1v1h-1zM407,477h1v2h-1zM407,229h2v1h-2zM407,262h4v1h-4zM408,103h1v1h-1zM408,183h1v1h-1zM408,399h1v1h-1zM408,479h1v1h-1zM408,353h2v1h-2zM408,320h4v1h-4zM409,101h1v2h-1zM409,182h1v1h-1zM409,228h1v1h-1zM409,400h1v1h-1zM409,480h1v2h-1zM410,99h1v2h-1zM410,181h1v1h-1zM410,401h1v1h-1zM410,482h1v2h-1zM410,227h2v1h-2zM410,354h2v1h-2zM411,97h1v2h-1zM411,180h1v1h-1zM411,402h1v1h-1zM411,484h1v1h-1zM411,261h3v1h-3zM412,96h1v1h-1zM412,179h1v1h-1zM412,355h1v1h-1zM412,403h1v1h-1zM412,485h1v2h-1zM412,226h2v1h-2zM412,321h4v1h-4zM413,94h1v2h-1zM413,178h1v1h-1zM413,404h1v1h-1zM413,487h1v2h-1zM413,356h2v1h-2zM414,92h1v2h-1zM414,177h1v1h-1zM414,405h1v1h-1zM414,489h1v2h-1zM414,225h2v1h-2zM414,260h4v1h-4zM415,90h1v2h-1zM415,176h1v1h-1zM415,406h1v1h-1zM415,491h1v1h-1zM415,357h2v1h-2zM416,89h1v1h-1zM416,175h1v1h-1zM416,224h1v1h-1zM416,407h1v1h-1zM416,492h1v2h-1zM416,322h4v1h-4zM417,87h1v2h-1zM417,174h1v1h-1zM417,358h1v1h-1zM417,408h1v1h-1zM417,494h1v2h-1zM417,223h2v1h-2zM418,85h1v2h-1zM418,173h1v1h-1zM418,409h1v1h-1zM418,496h1v2h-1zM418,359h2v1h-2zM418,259h4v1h-4zM419,83h1v2h-1zM419,172h1v1h-1zM419,410h1v1h-1zM419,498h1v1h-1zM419,222h2v1h-2zM420,82h1v1h-1zM420,171h1v1h-1zM420,411h1v1h-1zM420,499h1v2h-1zM420,360h2v1h-2zM420,323h3v1h-3zM421,80h1v2h-1zM421,170h1v1h-1zM421,412h1v1h-1zM421,501h1v2h-1zM421,221h2v1h-2zM422,78h1v2h-1zM422,169h1v1h-1zM422,413h1v1h-1zM422,503h1v2h-1zM422,361h2v1h-2zM422,258h4v1h-4zM423,77h1v1h-1zM423,168h1v1h-1zM423,220h1v1h-1zM423,414h1v1h-1zM423,505h1v1h-1zM423,324h4v1h-4zM424,75h1v2h-1zM424,167h1v1h-1zM424,362h1v1h-1zM424,415h1v1h-1zM424,506h1v1h-1zM424,219h2v1h-2zM425,74h1v1h-1zM425,166h1v1h-1zM425,416h1v1h-1zM425,363h2v1h-2zM426,165h1v1h-1zM426,417h1v1h-1zM426,218h2v1h-2zM426,257h3v1h-3zM427,164h1v1h-1zM427,418h1v1h-1zM427,364h2v1h-2zM427,325h4v1h-4zM428,163h1v1h-1zM428,419h1v1h-1zM428,217h2v1h-2zM429,162h1v1h-1zM429,420h1v1h-1zM429,365h2v1h-2zM429,256h4v1h-4zM430,161h1v1h-1zM430,216h1v1h-1zM430,421h1v1h-1zM431,160h1v1h-1zM431,366h1v1h-1zM431,422h1v1h-1zM431,215h2v1h-2zM431,326h3v1h-3zM432,159h1v1h-1zM432,423h1v1h-1zM432,367h2v1h-2zM433,158h1v1h-1zM433,424h1v1h-1zM433,214h2v1h-2zM433,255h4v1h-4zM434,157h1v1h-1zM434,425h1v1h-1zM434,368h2v1h-2zM434,327h4v1h-4zM435,156h1v1h-1zM435,213h1v1h-1zM435,426h1v1h-1zM436,155h1v1h-1zM436,427h1v1h-1zM436,212h2v1h-2zM436,369h2v1h-2zM437,154h1v1h-1zM437,428h1v1h-1zM437,254h3v1h-3zM438,153h1v1h-1zM438,370h1v1h-1zM438,429h1v1h-1zM438,211h2v1h-2zM438,328h4v1h-4zM439,152h1v1h-1zM439,430h1v1h-1zM439,371h2v1h-2zM440,151h1v1h-1zM440,431h1v1h-1zM440,210h2v1h-2zM440,253h4v1h-4zM441,150h1v1h-1zM441,432h1v1h-1zM441,372h2v1h-2zM442,149h1v1h-1zM442,209h1v1h-1zM442,433h1v1h-1zM442,329h4v1h-4zM443,148h1v1h-1zM443,373h1v1h-1zM443,434h1v1h-1zM443,208h2v1h-2zM444,147h1v1h-1zM444,435h1v1h-1zM444,374h2v1h-2zM444,252h4v1h-4zM445,146h1v1h-1zM445,436h1v1h-1zM445,207h2v1h-2zM446,145h1v1h-1zM446,437h1v1h-1zM446,375h2v1h-2zM446,330h3v1h-3zM447,144h1v1h-1zM447,438h1v1h-1zM447,206h2v1h-2zM448,143h1v1h-1zM448,439h1v1h-1zM448,376h2v1h-2zM448,251h4v1h-4zM449,142h1v1h-1zM449,205h1v1h-1zM449,440h1v1h-1zM449,331h4v1h-4zM450,141h1v1h-1zM450,377h1v1h-1zM450,441h1v1h-1zM450,204h2v1h-2zM451,140h1v1h-1zM451,442h1v1h-1zM451,378h2v1h-2zM452,139h1v1h-1zM452,443h1v1h-1zM452,203h2v1h-2zM452,250h3v1h-3zM453,138h1v1h-1zM453,444h1v1h-1zM453,379h2v1h-2zM453,332h4v1h-4zM454,137h1v1h-1zM454,445h1v1h-1zM454,202h2v1h-2zM455,136h1v1h-1zM455,446h1v1h-1zM455,380h2v1h-2zM455,249h4v1h-4zM456,135h1v1h-1zM456,201h1v1h-1zM456,447h1v1h-1zM457,134h1v1h-1zM457,381h1v1h-1zM457,448h1v1h-1zM457,200h2v1h-2zM457,333h4v1h-4zM458,133h1v1h-1zM458,449h1v1h-1zM458,382h2v1h-2zM459,132h1v1h-1zM459,450h1v1h-1zM459,199h2v1h-2zM459,248h4v1h-4zM460,131h1v1h-1zM460,451h1v1h-1zM460,383h2v1h-2zM461,130h1v1h-1zM461,198h1v1h-1zM461,452h1v1h-1zM461,334h3v1h-3zM462,129h1v1h-1zM462,384h1v1h-1zM462,453h1v1h-1zM462,197h2v1h-2zM463,128h1v1h-1zM463,454h1v1h-1zM463,385h2v1h-2zM463,247h4v1h-4zM464,127h1v1h-1zM464,455h1v1h-1zM464,196h2v1h-2zM464,335h4v1h-4zM465,126h1v1h-1zM465,456h1v1h-1zM465,386h2v1h-2zM466,125h1v1h-1zM466,457h1v1h-1zM466,195h2v1h-2zM467,124h1v1h-1zM467,458h1v1h-1zM467,387h2v1h-2zM467,246h3v1h-3zM468,123h1v1h-1zM468,194h1v1h-1zM468,459h1v1h-1zM468,336h4v1h-4zM469,122h1v1h-1zM469,388h1v1h-1zM469,460h1v1h-1zM469,193h2v1h-2zM470,121h1v1h-1zM470,461h1v1h-1zM470,389h2v1h-2zM470,245h4v1h-4zM471,120h1v1h-1zM471,462h1v1h-1zM471,192h2v1h-2zM472,119h1v1h-1zM472,463h1v1h-1zM472,390h2v1h-2zM472,337h4v1h-4zM473,118h1v1h-1zM473,464h1v1h-1zM473,191h2v1h-2zM474,117h1v1h-1zM474,465h1v1h-1zM474,391h2v1h-2zM474,244h4v1h-4zM475,116h1v1h-1zM475,190h1v1h-1zM475,466h1v1h-1zM476,115h1v1h-1zM476,392h1v1h-1zM476,189h2v1h-2zM476,338h3v1h-3zM477,393h2v1h-2zM478,188h2v1h-2zM478,243h4v1h-4zM479,394h2v1h-2zM479,339h4v1h-4zM480,187h1v1h-1zM481,186h2v1h-2zM481,395h2v1h-2zM482,242h3v1h-3zM483,396h1v1h-1zM483,185h2v1h-2zM483,340h4v1h-4zM484,397h2v1h-2zM485,184h2v1h-2zM485,241h4v1h-4zM486,398h2v1h-2zM487,183h1v1h-1zM487,341h3v1h-3zM488,399h1v1h-1zM488,182h2v1h-2zM489,400h2v1h-2zM489,240h4v1h-4zM490,181h2v1h-2zM490,342h4v1h-4zM491,401h2v1h-2zM492,180h2v1h-2zM493,402h2v1h-2zM493,239h3v1h-3zM494,179h1v1h-1zM494,343h4v1h-4zM495,403h1v1h-1zM495,178h2v1h-2zM496,404h2v1h-2zM496,238h4v1h-4zM497,177h2v1h-2zM498,405h2v1h-2zM498,344h4v1h-4zM499,176h2v1h-2zM500,406h2v1h-2zM500,237h4v1h-4zM501,175h1v1h-1zM502,407h1v1h-1zM502,174h2v1h-2zM502,345h3v1h-3zM503,408h2v1h-2zM504,173h2v1h-2zM504,236h4v1h-4zM505,409h2v1h-2zM505,346h4v1h-4zM506,172h1v1h-1zM507,171h2v1h-2zM507,410h2v1h-2zM508,235h3v1h-3zM509,411h1v1h-1zM509,170h2v1h-2zM509,347h4v1h-4zM510,412h2v1h-2zM511,169h2v1h-2zM511,234h4v1h-4zM512,413h2v1h-2zM513,168h1v1h-1zM513,348h4v1h-4zM514,414h1v1h-1zM514,167h2v1h-2zM515,415h1v1h-1zM515,233h4v1h-4zM516,166h1v1h-1zM517,349h3v1h-3zM519,232h4v1h-4zM520,350h4v1h-4zM523,231h3v1h-3zM524,351h4v1h-4zM526,230h4v1h-4zM528,352h4v1h-4zM530,229h4v1h-4zM532,353h3v1h-3zM534,228h3v1h-3zM535,354h4v1h-4zM537,227h4v1h-4zM539,355h2v1h-2z"/>
</g>
<path d="M300.5,291.5 L295,292.8 L290,294 L285,296 L280,299 L276,303 L274,308 L273.3,313 L274,318 L276.5,325 L277.4,332 L277.9,339 L278.2,345 L278.9,347.9 L285,347.6 L290,347.3 L295,348.5 L300.5,351 L306,356.5 L311,361.7 L316,367 L320,369.8 L325,372.5 L330,375 L335,378 L340,381.2 L345,383.3 L350,385.6 L355,387.8 L360,387.4 L365,385 L370,383 L375,381 L380,379 L385,377.5 L390,376.8 L395,376.2 L400.5,375.5 L395,370.5 L390,366 L384,360 L380,354.5 L370,345.9 L360,337.7 L350,329.8 L340,321.6 L330,313 L325,308.7 L320,304.2 L316,300.4 L313,297.3 L310,294.9 L305,293Z" fill="none" stroke="#0000d2" stroke-width="3" stroke-linejoin="round" shape-rendering="crispEdges"/>
<path d="M300.5,291.4 L295,291.8 L290,292.6 L285,293.4 L280,294.4 L275,295.3 L270,296.6 L265,297.6 L258,299.7 L245,303.8 L235,306.2 L225,308.6 L220,309.8 L210,312.1 L200,315 L190,317.9 L180,320.9 L170,325 L160,328.7 L150,332.2 L143,336 L139,339.2 L136.5,342.3 L135.8,344.2 L137.8,346.5 L138.6,349.7 L135,352.5 L131,357 L129,361 L128.5,366 L130,369.5 L135,373 L140,376.5 L145,380.5 L149,385 L151.5,388.5 L151.5,391.5 L154,394.5 L159,395.8 L164,397.5 L168,399.5 L172,402.5 L176,405.8 L180,406.3 L186,406.7 L191,408.5 L196,410 L205,410.2 L215,410 L220,409.2 L225,408.7 L231,408 L236.5,405.5 L240,404 L245,401.3 L250,397.8 L255,394.2 L260,390.3 L265,386.2 L270,382 L275,377.3 L280,372.5 L285,367 L290,361.7 L295,356.5 L300.5,351 L305.5,356.5 L310.5,361.7 L315.5,367 L320.5,372.5 L325.5,377.3 L330.5,382 L335.5,386.2 L340.5,390.3 L345.5,394.2 L350.5,397.8 L355.5,401.8 L360.5,404.5 L364,406 L369.5,408.3 L375.5,409 L380.5,409.6 L385.5,410.4 L395.5,410.2 L404.5,410 L409.5,408.5 L414.5,406.7 L420.5,406.3 L424.8,406.2 L430,400.5 L435,397.7 L441.5,395.8 L446,394.5 L448.3,391.5 L448.5,388.5 L451,385 L455.5,380.5 L460.5,376.5 L465.5,373 L470.5,369.5 L472,366 L471,361.3 L468.2,357 L464.8,352.8 L462.4,349.9 L462.5,346.8 L464.8,344.4 L464,342 L461.5,338.7 L457.5,335.5 L450.5,331.4 L440.5,327.9 L430.5,324.6 L420.5,320.9 L410.5,317.9 L400.5,315 L390.5,312.1 L380.5,309.8 L375.5,308.6 L365.5,306.2 L355.5,303.8 L342.5,299.7 L335.5,297.6 L330.5,296.7 L325.5,295.5 L320.5,294.6 L315.5,293.6 L310.5,292.8 L305.5,291.9Z" fill="none" stroke="#e1000f" stroke-width="3.3" stroke-linejoin="round" shape-rendering="crispEdges"/>
<rect x="92" y="279" width="40.5" height="24" fill="#fff"/>
<rect x="155.5" y="279" width="38.5" height="24" fill="#fff"/>
<rect x="217" y="279" width="40" height="24" fill="#fff"/>
<text x="282.8" y="33.8" textLength="42.66" lengthAdjust="spacingAndGlyphs">180°</text>
<text x="294.4" y="561.6" textLength="19.72" lengthAdjust="spacingAndGlyphs">0°</text>
<text x="143.5" y="64" textLength="42.66" lengthAdjust="spacingAndGlyphs">150°</text>
<text x="413.5" y="64" textLength="42.66" lengthAdjust="spacingAndGlyphs">150°</text>
<text x="44.5" y="163" textLength="42.66" lengthAdjust="spacingAndGlyphs">120°</text>
<text x="512.5" y="163" textLength="42.66" lengthAdjust="spacingAndGlyphs">120°</text>
<text x="14" y="298" textLength="31.19" lengthAdjust="spacingAndGlyphs">90°</text>
<text x="554" y="298" textLength="31.19" lengthAdjust="spacingAndGlyphs">90°</text>
<text x="50" y="432.5" textLength="31.19" lengthAdjust="spacingAndGlyphs">60°</text>
<text x="518" y="432.5" textLength="31.19" lengthAdjust="spacingAndGlyphs">60°</text>
<text x="149.3" y="532" textLength="31.19" lengthAdjust="spacingAndGlyphs">30°</text>
<text x="419.3" y="531.7" textLength="31.19" lengthAdjust="spacingAndGlyphs">30°</text>
<text x="94" y="298" textLength="34.41" lengthAdjust="spacingAndGlyphs">450</text>
<text x="157" y="298" textLength="34.41" lengthAdjust="spacingAndGlyphs">300</text>
<text x="219.5" y="298" textLength="34.41" lengthAdjust="spacingAndGlyphs">150</text>
<text x="516.3" y="23.2" style="font-family:'Liberation Serif',serif;font-size:21.33px;stroke-width:0.1px">η</text>
<text x="528.39" y="23.2" style="font-size:21.33px" textLength="64.21" lengthAdjust="spacingAndGlyphs">: 100%</text>
<text x="11.90" y="588" style="font-size:19px" textLength="57.91" lengthAdjust="spacingAndGlyphs">cd/klm</text>
<line x1="447.5" y1="557.5" x2="481.5" y2="557.5" stroke="#e1000f" stroke-width="3" stroke-linecap="round"/>
<line x1="447.5" y1="581.5" x2="481.5" y2="581.5" stroke="#0000d2" stroke-width="3" stroke-linecap="round"/>
<text x="496.87" y="563.4" style="font-size:21.33px" textLength="96.13" lengthAdjust="spacingAndGlyphs">C180 | C0</text>
<text x="484.95" y="587.6" style="font-size:21.33px" textLength="108.05" lengthAdjust="spacingAndGlyphs">C270 | C90</text>
</svg>
<div class="frame"></div>
</body></html>
